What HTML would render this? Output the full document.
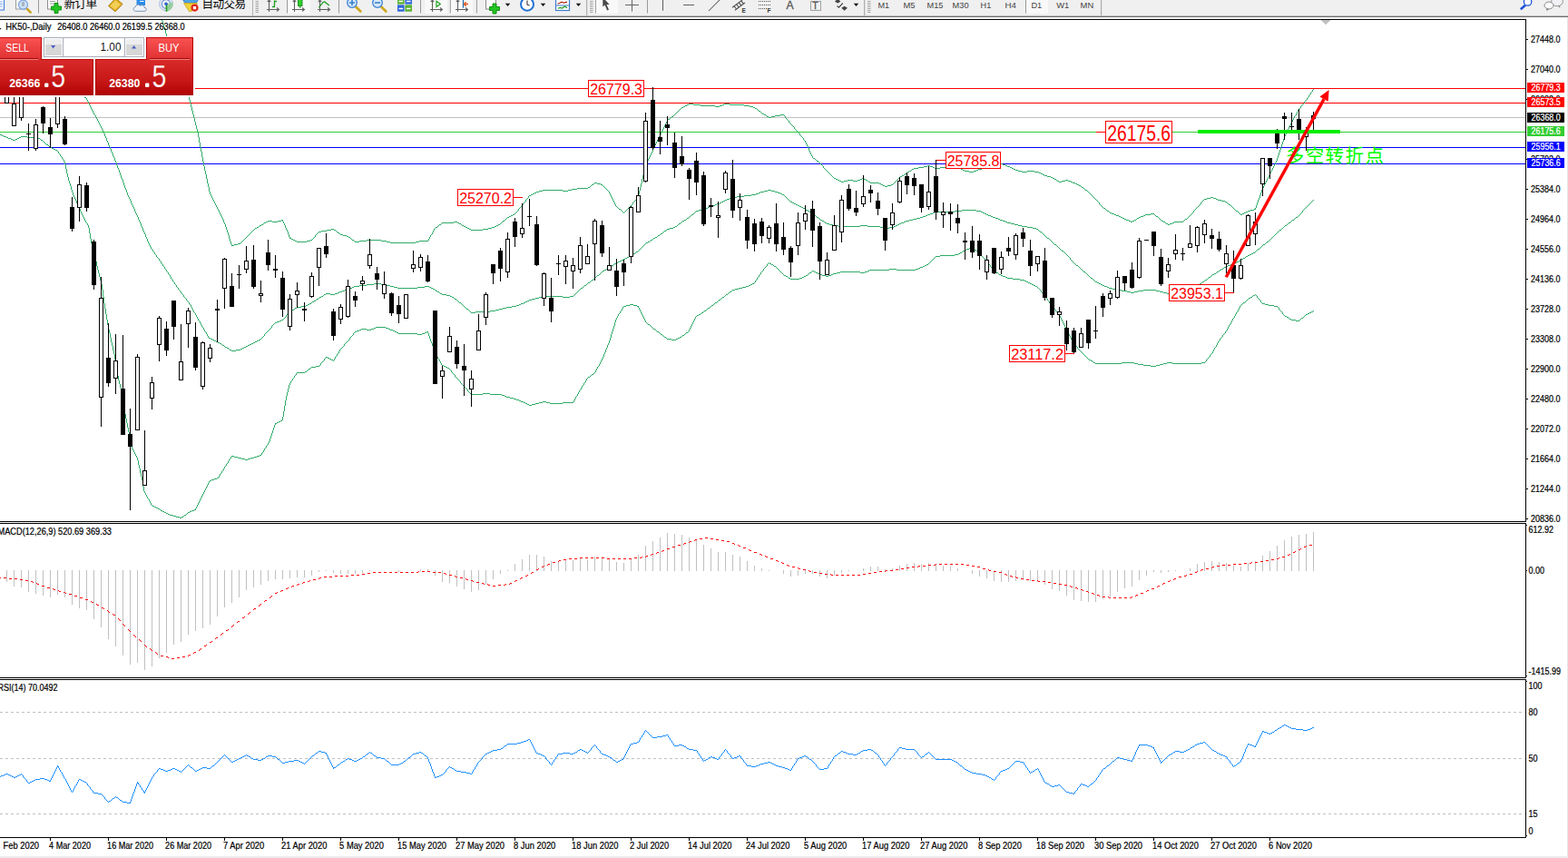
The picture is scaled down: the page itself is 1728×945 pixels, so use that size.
<!DOCTYPE html>
<html><head><meta charset="utf-8"><title>HK50 Daily</title>
<style>html,body{margin:0;padding:0;background:#fff}body{width:1728px;height:945px;overflow:hidden;font-family:"Liberation Sans",sans-serif}</style>
</head><body>
<svg width="1728" height="945" viewBox="0 0 1728 945" font-family="Liberation Sans, sans-serif" style="display:block">
<defs>
<linearGradient id="gTab" x1="0" y1="0" x2="0" y2="1"><stop offset="0" stop-color="#fa5252"/><stop offset="1" stop-color="#e03232"/></linearGradient>
<linearGradient id="gPan" x1="0" y1="0" x2="0" y2="1"><stop offset="0" stop-color="#d92b2b"/><stop offset="0.6" stop-color="#c71717"/><stop offset="1" stop-color="#b00303"/></linearGradient>
<linearGradient id="gBtn" x1="0" y1="0" x2="0" y2="1"><stop offset="0" stop-color="#f4f4f4"/><stop offset="0.5" stop-color="#dcdcdc"/><stop offset="1" stop-color="#c8c8c8"/></linearGradient>
<clipPath id="cMain"><rect x="0" y="22" width="1681" height="552"/></clipPath>
<clipPath id="cTool"><rect x="0" y="0" width="1728" height="17"/></clipPath>
</defs>
<rect width="1728" height="945" fill="#fff"/>
<g clip-path="url(#cMain)">
<rect x="0" y="97" width="1681" height="1" fill="#ff0000" />
<rect x="0" y="113" width="1681" height="1" fill="#ff0000" />
<rect x="0" y="129" width="1681" height="1" fill="#c0c0c0" />
<rect x="0" y="145" width="1681" height="1" fill="#32cd32" />
<rect x="0" y="162" width="1681" height="1" fill="#0000ff" />
<rect x="0" y="180" width="1681" height="1" fill="#0000ff" />
<path fill="none" stroke="#2eaa68" stroke-width="1" shape-rendering="crispEdges" d="M291 245.5h2M487 245.5h13M504 245.5h2M1292 245.5h2M585 214.5h2M755 116.5h2M772 116.5h16M793 116.5h3M820 116.5h6M325 265.5h2M338 265.5h4M396 265.5h8M420 265.5h6M462 265.5h10M757 115.5h2M764 115.5h8M796 115.5h2M804 115.5h16M1022 182.5h3M1092 182.5h2M1108 182.5h2M327 266.5h11M391 266.5h5M426 266.5h4M458 266.5h4M295 243.5h5M306 243.5h4M554 243.5h2M1244 243.5h2M1248 243.5h2M1280 243.5h2M360 253.5h5M368 253.5h2M519 253.5h13M842 126.5h2M860 126.5h4M648 206.5h2M1192 206.5h2M1012 184.5h6M1028 184.5h2M1036 184.5h21M1086 184.5h3M1113 184.5h2M736 131.5h2M293 244.5h2M300 244.5h6M500 244.5h4M1246 244.5h2M1282 244.5h2M1294 244.5h10M1145 190.5h2M973 204.5h2M978 204.5h4M1189 204.5h2M1061 187.5h2M1076 187.5h2M1119 187.5h3M321 263.5h2M288 247.5h2M484 247.5h2M549 247.5h2M1287 247.5h2M594 210.5h4M620 210.5h6M1220 232.5h2M1362 232.5h2M1375 232.5h3M1005 186.5h2M1059 186.5h2M1078 186.5h4M1117 186.5h2M430 267.5h28M1018 183.5h4M1025 183.5h3M1089 183.5h3M1110 183.5h3M310 242.5h2M1241 242.5h3M1250 242.5h2M658 202.5h4M969 202.5h2M1185 202.5h2M365 252.5h3M517 252.5h2M532 252.5h6M1378 231.5h4M1002 188.5h2M1063 188.5h5M1073 188.5h3M1122 188.5h4M1132 188.5h8M378 259.5h4M919 196.5h2M950 196.5h2M1160 196.5h2M1216 229.5h2M751 118.5h2M830 118.5h2M281 251.5h2M515 251.5h2M538 251.5h4M375 258.5h3M630 208.5h6M591 211.5h3M563 237.5h2M1230 237.5h3M1260 237.5h2M923 198.5h2M934 198.5h6M945 198.5h3M954 198.5h2M1174 198.5h3M384 261.5h2M1223 234.5h2M1371 234.5h2M319 262.5h2M561 238.5h2M1233 238.5h2M1257 238.5h3M1274 238.5h2M1007 185.5h5M1030 185.5h6M1057 185.5h2M1082 185.5h4M1115 185.5h2M351 255.5h3M927 200.5h3M957 200.5h2M1167 200.5h3M1180 200.5h2M1350 222.5h2M925 199.5h2M930 199.5h4M940 199.5h5M1165 199.5h2M1170 199.5h4M1177 199.5h3M323 264.5h2M342 264.5h2M388 264.5h2M404 264.5h16M283 250.5h2M480 250.5h2M513 250.5h2M542 250.5h3M975 205.5h3M1354 225.5h2M598 209.5h22M626 209.5h4M1196 209.5h2M354 254.5h6M740 128.5h2M845 128.5h2M850 128.5h4M682 230.5h2M1382 230.5h2M589 212.5h2M655 201.5h3M959 201.5h10M1182 201.5h3M994 193.5h2M1151 193.5h3M1373 233.5h2M1330 218.5h4M1337 218.5h3M1100 180.5h5M1225 235.5h3M1268 235.5h4M1369 235.5h2M847 129.5h3M840 125.5h2M1346 221.5h4M511 249.5h2M545 249.5h2M382 260.5h2M759 114.5h5M798 114.5h6M896 174.5h2M1000 189.5h2M1068 189.5h5M1126 189.5h6M1140 189.5h5M587 213.5h2M286 248.5h2M509 248.5h2M547 248.5h2M506 246.5h2M1285 246.5h2M1289 246.5h3M753 117.5h2M788 117.5h5M826 117.5h4M652 203.5h2M662 203.5h2M971 203.5h2M982 203.5h2M1187 203.5h2M583 215.5h2M559 239.5h2M1235 239.5h2M1255 239.5h2M636 207.5h12M1237 240.5h2M1253 240.5h2M836 122.5h2M1094 181.5h6M1105 181.5h3M1149 192.5h2M565 236.5h2M1228 236.5h2M1262 236.5h6M1367 236.5h2M921 197.5h2M948 197.5h2M952 197.5h2M1162 197.5h2M992 194.5h2M1154 194.5h4M854 127.5h6M1327 219.5h3M1340 219.5h2M900 177.5h2M997 191.5h2M1147 191.5h2M1342 220.5h4M1334 217.5h3M262 268.5h3M372 256.5h2M255 270.5h3M832 119.5h2M1239 241.5h2M1306 241.5h2M1158 195.5h2M258 269.5h4M220.5 157v5M312.5 244v2M870.5 135v1M1440.5 108v2M222.5 167v6M651.5 204v1M725.5 152v2M1393.5 203v2M1323.5 223v2M188.5 51v3M895.5 172v2M216.5 138v4M877.5 143v1M209.5 110v4M1421.5 138v2M708.5 193v4M244.5 238v2M226.5 188v4M579.5 220v2M582.5 216v2M285.5 249v1M666.5 206v1M229.5 202v4M181.5 30v3M478.5 252v2M1273.5 237v1M744.5 125v1M721.5 160v2M250.5 253v3M213.5 126v4M1392.5 205v2M230.5 206v5M251.5 256v3M185.5 43v3M232.5 214v2M914.5 191v1M1417.5 146v2M223.5 173v5M729.5 144v2M704.5 210v4M1433.5 117v2M233.5 216v2M191.5 59v3M869.5 133v2M199.5 81v3M1445.5 101v1M474.5 259v2M254.5 266v3M184.5 40v3M720.5 162v2M1408.5 171v3M1326.5 220v1M192.5 62v3M247.5 245v2M709.5 189v4M1004.5 187v1M205.5 98v3M1212.5 225v1M269.5 263v1M219.5 151v6M985.5 201v1M212.5 122v4M691.5 230v1M713.5 177v2M1213.5 226v1M195.5 70v3M913.5 190v1M558.5 240v1M1353.5 224v1M243.5 236v2M1198.5 210v1M1364.5 233v1M1399.5 191v2M390.5 265v1M570.5 232v1M677.5 223v2M551.5 246v1M1315.5 232v2M839.5 124v1M1436.5 114v1M1439.5 110v1M724.5 154v2M1284.5 245v1M1403.5 183v2M272.5 260v1M1205.5 217v1M345.5 262v1M215.5 134v4M905.5 181v1M225.5 183v5M684.5 231v1M253.5 263v3M578.5 222v1M1423.5 134v2M246.5 242v3M906.5 182v1M318.5 258v3M1396.5 197v2M1412.5 159v3M707.5 197v5M1394.5 201v2M1416.5 148v2M573.5 228v1M688.5 233v1M891.5 163v3M187.5 48v3M1318.5 229v1M1407.5 174v3M1204.5 216v1M731.5 140v2M180.5 27v3M208.5 106v4M1164.5 198v1M473.5 261v2M1411.5 162v3M719.5 164v3M201.5 87v3M482.5 249v1M348.5 258v1M673.5 215v2M218.5 146v5M211.5 118v4M486.5 246v1M228.5 197v5M1359.5 229v1M711.5 181v4M477.5 254v2M224.5 178v5M1360.5 230v1M386.5 262v1M703.5 214v3M834.5 120v1M894.5 170v2M1310.5 238v1M317.5 255v3M371.5 255v1M728.5 146v2M835.5 121v1M909.5 186v1M695.5 226v1M1402.5 185v2M676.5 221v2M879.5 145v1M679.5 227v1M508.5 247v1M221.5 162v5M194.5 68v2M880.5 146v1M1415.5 150v3M249.5 250v3M179.5 23v4M680.5 228v1M1430.5 121v2M987.5 199v1M314.5 248v3M669.5 209v1M1442.5 105v2M650.5 205v1M706.5 202v4M231.5 211v3M1219.5 231v1M916.5 193v1M1322.5 225v1M1398.5 193v2M654.5 202v1M581.5 218v1M1410.5 165v3M190.5 57v2M227.5 192v5M370.5 254v1M276.5 256v1M1211.5 223v2M183.5 37v3M871.5 136v1M908.5 185v1M1414.5 153v3M746.5 123v1M1426.5 128v2M735.5 132v2M1391.5 207v2M204.5 95v3M872.5 137v1M1406.5 177v2M893.5 168v2M576.5 224v2M739.5 129v1M217.5 142v4M242.5 234v2M743.5 126v1M1218.5 230v1M698.5 222v1M710.5 185v4M675.5 219v2M1252.5 241v1M1200.5 212v1M1422.5 136v2M734.5 134v2M1390.5 209v3M668.5 208v1M1325.5 221v1M693.5 228v1M984.5 202v1M553.5 244v1M690.5 231v1M214.5 130v4M718.5 167v2M189.5 54v3M999.5 190v1M730.5 142v2M197.5 76v3M557.5 241v1M252.5 259v4M182.5 33v4M907.5 183v2M210.5 114v4M686.5 233v1M245.5 240v2M203.5 92v3M723.5 156v2M892.5 166v2M1214.5 227v1M701.5 218v2M196.5 73v3M678.5 225v2M1317.5 230v1M241.5 232v2M1438.5 111v1M193.5 65v3M714.5 175v2M705.5 206v4M750.5 119v1M271.5 261v1M882.5 149v1M186.5 46v2M674.5 217v2M915.5 192v1M1397.5 195v2M1409.5 168v3M1366.5 235v1M207.5 103v3M1312.5 236v1M476.5 256v2M1413.5 156v3M200.5 84v3M1425.5 130v2M1389.5 212v3M1305.5 242v1M248.5 247v3M575.5 226v1M991.5 195v1M1401.5 187v2M1320.5 227v1M844.5 127v1M1385.5 223v3M1429.5 123v2M472.5 263v2M1199.5 211v1M1365.5 234v1M316.5 253v2M347.5 259v2M350.5 256v1M875.5 140v2M1388.5 215v3M881.5 147v2M278.5 254v1M238.5 226v2M290.5 246v1M717.5 169v2M1405.5 179v2M671.5 211v2M1206.5 218v1M1195.5 208v1M685.5 232v1M697.5 223v2M266.5 266v1M733.5 136v2M1361.5 231v1M572.5 229v1M240.5 230v2M989.5 197v1M1441.5 107v1M1444.5 102v2M874.5 139v1M315.5 251v2M567.5 235v1M1384.5 226v3M712.5 179v2M1400.5 189v2M237.5 224v2M1191.5 205v1M748.5 121v1M889.5 159v2M1194.5 207v1M670.5 210v1M745.5 124v1M700.5 220v1M198.5 79v2M178.5 22v1M206.5 101v2M866.5 130v1M387.5 263v1M903.5 179v1M273.5 259v1M873.5 138v1M910.5 187v1M202.5 90v2M239.5 228v2M1404.5 181v2M1432.5 119v1M986.5 200v1M681.5 229v1M692.5 229v1M1420.5 140v2M236.5 222v2M888.5 157v2M917.5 194v1M732.5 138v2M902.5 178v1M1428.5 125v2M1276.5 239v1M1319.5 228v1M479.5 251v1M1277.5 240v1M1387.5 218v2M716.5 171v2M1314.5 234v1M1435.5 115v1M1424.5 132v2M1447.5 98v1M1201.5 213v1M277.5 255v1M672.5 213v2M268.5 264v1M1202.5 214v1M883.5 150v1M1395.5 199v2M574.5 227v1M577.5 223v1M865.5 128v2M884.5 151v1M1208.5 220v1M569.5 233v1M265.5 267v1M349.5 257v1M687.5 234v1M1209.5 221v1M280.5 252v1M1215.5 228v1M1419.5 142v2M344.5 263v1M876.5 142v1M1383.5 229v1M1386.5 220v3M1311.5 237v1M665.5 205v1M890.5 161v2M898.5 175v1M1272.5 236v1M235.5 220v2M887.5 155v2M1356.5 226v1M699.5 221v1M864.5 127v1M727.5 148v2M1309.5 239v1M311.5 243v1M1207.5 219v1M715.5 173v2M988.5 198v1M694.5 227v1M1443.5 104v1M747.5 122v1M912.5 189v1M1352.5 223v1M1321.5 226v1M580.5 219v1M275.5 257v1M886.5 154v1M722.5 158v2M838.5 123v1M1446.5 99v2M738.5 130v1M1418.5 144v2M904.5 180v1M996.5 192v1M1431.5 120v1M664.5 204v1M1279.5 242v1M911.5 188v1M374.5 257v1M552.5 245v1M313.5 246v2M885.5 152v2M1427.5 127v1M702.5 217v1M234.5 218v2M918.5 195v1M255.5 269v1M867.5 131v1M1437.5 112v2M742.5 127v1M868.5 132v1M1313.5 235v1M1434.5 116v1M279.5 253v1M1222.5 233v1M1278.5 241v1M270.5 262v1M956.5 199v1M726.5 150v2M475.5 258v1M1324.5 222v1M878.5 144v1M571.5 230v2M1304.5 243v1M267.5 265v1M899.5 176v1M689.5 232v1M1203.5 215v1M1358.5 228v1M556.5 242v1M346.5 261v1M568.5 234v1M483.5 248v1M749.5 120v1M1316.5 231v1M1210.5 222v1M319.5 261v1M1308.5 240v1M274.5 258v1M990.5 196v1M696.5 225v1M1357.5 227v1M667.5 207v1"/>
<path fill="none" stroke="#2eaa68" stroke-width="1" shape-rendering="crispEdges" d="M492 325.5h4M742 250.5h2M970 250.5h4M980 250.5h5M1132 250.5h6M744 249.5h2M924 249.5h24M956 249.5h14M985 249.5h2M1126 249.5h6M3 83.5h6M47 91.5h5M1020 237.5h2M1089 237.5h3M385 317.5h3M438 317.5h22M475 317.5h2M640 317.5h2M1222 317.5h4M1314 317.5h2M838 211.5h4M854 211.5h3M1349 294.5h2M380 319.5h2M1230 319.5h6M1260 319.5h14M1310 319.5h2M255 386.5h5M693 282.5h2M1373 282.5h2M1332 305.5h2M1030 233.5h22M1081 233.5h2M372 322.5h2M1246 322.5h4M1282 322.5h4M1292 322.5h13M344 332.5h2M579 332.5h2M770 231.5h4M888 231.5h2M1060 231.5h16M918 248.5h6M948 248.5h8M987 248.5h2M1122 248.5h4M1416 248.5h2M828 214.5h5M862 214.5h2M354 326.5h2M496 326.5h2M598 326.5h22M628 326.5h4M681 288.5h2M1363 288.5h2M900 239.5h2M1014 239.5h3M1094 239.5h3M1428 239.5h2M341 334.5h2M574 334.5h3M689 284.5h2M1370 284.5h2M20 86.5h5M735 252.5h3M1142 252.5h2M412 312.5h8M1211 312.5h2M1322 312.5h2M685 286.5h2M524 343.5h16M804 218.5h2M377 320.5h3M480 320.5h2M1236 320.5h6M1254 320.5h6M1274 320.5h4M1308 320.5h2M1006 241.5h4M1100 241.5h2M374 321.5h3M482 321.5h2M1242 321.5h4M1250 321.5h4M1278 321.5h4M1305 321.5h3M359 323.5h5M369 323.5h3M485 323.5h2M1286 323.5h6M1162 269.5h2M1392 269.5h2M754 242.5h2M904 242.5h2M1002 242.5h4M1102 242.5h3M1424 242.5h2M757 240.5h2M1010 240.5h4M1097 240.5h3M253 385.5h2M260 385.5h5M382 318.5h3M477 318.5h2M1226 318.5h4M1312 318.5h2M514 340.5h2M550 340.5h4M308 353.5h2M720 262.5h2M1154 262.5h2M390 315.5h6M430 315.5h4M468 315.5h5M1217 315.5h3M1317 315.5h2M41 90.5h6M1202 306.5h2M893 234.5h2M1028 234.5h2M1083 234.5h2M717 264.5h2M795 222.5h2M871 222.5h2M762 236.5h2M896 236.5h2M1022 236.5h3M1087 236.5h2M590 328.5h4M25 87.5h6M242 378.5h2M277 378.5h2M1017 238.5h3M1092 238.5h2M909 245.5h2M993 245.5h3M1110 245.5h4M1420 245.5h2M782 227.5h3M881 227.5h2M332 337.5h5M564 337.5h5M76 100.5h3M67 96.5h2M1146 255.5h2M677 290.5h2M1358 290.5h3M325 339.5h2M554 339.5h4M1338 301.5h2M357 324.5h2M364 324.5h5M487 324.5h5M349 329.5h2M501 329.5h2M586 329.5h4M1356 291.5h2M388 316.5h2M434 316.5h4M460 316.5h8M473 316.5h2M1220 316.5h2M352 327.5h2M498 327.5h2M594 327.5h4M620 327.5h8M799 220.5h2M780 228.5h2M883 228.5h2M790 224.5h3M875 224.5h2M1375 281.5h2M86 104.5h2M788 225.5h2M877 225.5h2M14 85.5h6M79 101.5h2M812 216.5h8M652 308.5h2M1328 308.5h2M583 330.5h3M767 232.5h3M890 232.5h2M1052 232.5h8M1076 232.5h5M240 377.5h2M279 377.5h2M801 219.5h3M1336 302.5h2M666 297.5h2M1344 297.5h2M748 246.5h2M911 246.5h3M991 246.5h2M1114 246.5h4M842 210.5h4M850 210.5h4M1170 276.5h2M396 314.5h8M426 314.5h4M644 314.5h2M1215 314.5h2M683 287.5h2M1365 287.5h2M234 374.5h2M285 374.5h2M1346 296.5h2M36 89.5h5M701 277.5h2M519 344.5h5M1381 278.5h2M250 383.5h2M267 383.5h2M672 293.5h2M1351 293.5h2M996 244.5h2M1108 244.5h2M320 342.5h2M540 342.5h6M1207 310.5h2M1325 310.5h2M793 223.5h2M873 223.5h2M648 311.5h2M1209 311.5h2M0 82.5h3M305 354.5h3M674 292.5h2M1186 292.5h2M1353 292.5h3M245 380.5h2M273 380.5h2M327 338.5h5M558 338.5h6M271 381.5h2M238 376.5h2M281 376.5h2M404 313.5h8M420 313.5h6M1213 313.5h2M1320 313.5h2M846 209.5h4M728 257.5h2M339 335.5h2M572 335.5h2M696 280.5h2M1377 280.5h2M914 247.5h4M989 247.5h2M1118 247.5h4M820 215.5h8M836 212.5h2M857 212.5h3M738 251.5h4M974 251.5h6M1138 251.5h4M506 333.5h2M577 333.5h2M346 331.5h2M581 331.5h2M322 341.5h2M546 341.5h4M679 289.5h2M1361 289.5h2M248 382.5h2M269 382.5h2M669 295.5h2M774 230.5h3M785 226.5h3M879 226.5h2M1410 253.5h2M81 102.5h3M833 213.5h3M860 213.5h2M752 243.5h2M906 243.5h2M998 243.5h4M1105 243.5h3M74 99.5h2M64 95.5h3M725 259.5h2M275 379.5h2M236 375.5h2M283 375.5h2M1025 235.5h3M1085 235.5h2M714 266.5h2M1396 266.5h2M806 217.5h6M687 285.5h2M1368 285.5h2M797 221.5h2M1194 299.5h2M1341 299.5h2M71 98.5h3M658 303.5h2M232 373.5h2M303 355.5h2M691 283.5h2M664 298.5h2M230 372.5h2M69 97.5h2M58 93.5h4M62 94.5h2M777 229.5h3M885 229.5h2M722 261.5h2M265 384.5h2M337 336.5h2M569 336.5h3M732 254.5h2M52 92.5h6M1386 274.5h2M712 267.5h2M88 105.5h3M31 88.5h5M91 106.5h2M698 279.5h2M1379 279.5h2M9 84.5h5M310 352.5h2M93 107.5h2M84 103.5h2M632.5 325v1M145.5 224v2M117.5 152v3M107.5 131v2M761.5 237v1M1402.5 261v1M128.5 179v3M1391.5 270v1M134.5 196v2M671.5 294v1M663.5 299v1M1177.5 282v1M152.5 239v3M124.5 169v3M317.5 345v1M1166.5 272v1M1433.5 235v1M181.5 294v2M656.5 305v1M138.5 207v2M177.5 288v2M185.5 300v2M510.5 336v1M660.5 302v1M312.5 351v1M102.5 122v2M1144.5 253v1M199.5 321v2M103.5 124v2M106.5 129v2M1409.5 254v1M203.5 327v1M867.5 218v1M99.5 116v2M1445.5 222v1M1413.5 251v1M1191.5 296v1M1436.5 231v1M1165.5 271v1M1192.5 297v1M289.5 371v1M123.5 167v2M137.5 204v3M202.5 325v2M109.5 135v2M709.5 270v1M130.5 185v2M892.5 233v1M297.5 362v1M300.5 358v1M101.5 120v2M639.5 318v1M159.5 256v2M636.5 321v1M295.5 364v1M706.5 273v1M144.5 221v3M116.5 150v2M1179.5 284v2M155.5 246v3M517.5 342v1M351.5 328v1M1180.5 286v1M343.5 333v1M166.5 272v2M1404.5 259v1M180.5 293v1M188.5 305v2M151.5 237v2M1440.5 227v1M105.5 127v2M228.5 368v2M108.5 133v2M184.5 299v1M484.5 322v1M643.5 315v1M319.5 343v1M1435.5 232v2M1161.5 268v1M98.5 114v2M158.5 254v2M1172.5 277v1M1327.5 309v1M647.5 312v1M479.5 319v1M1150.5 258v1M1319.5 314v1M513.5 339v1M314.5 349v1M1331.5 306v1M115.5 147v3M651.5 309v1M133.5 193v3M292.5 367v1M141.5 215v2M154.5 244v2M719.5 263v1M634.5 323v1M183.5 297v2M165.5 270v2M287.5 373v1M179.5 291v2M187.5 303v2M1447.5 220v1M1401.5 262v1M104.5 126v1M227.5 366v2M512.5 338v1M201.5 324v1M148.5 230v3M903.5 241v1M1384.5 276v1M220.5 354v2M1149.5 257v1M662.5 300v1M205.5 329v2M143.5 219v2M97.5 112v2M1388.5 273v1M126.5 174v3M299.5 359v2M132.5 190v3M168.5 275v2M140.5 212v3M727.5 258v1M1430.5 238v1M169.5 277v1M182.5 296v1M1167.5 273v1M190.5 308v2M122.5 164v3M172.5 281v2M731.5 255v1M1145.5 254v1M1197.5 301v1M222.5 358v2M708.5 271v1M1168.5 274v1M899.5 238v1M1408.5 255v1M194.5 314v2M902.5 240v1M136.5 201v3M223.5 360v1M100.5 118v2M765.5 234v1M157.5 251v3M129.5 182v3M119.5 157v3M1395.5 267v1M216.5 347v2M160.5 258v3M746.5 248v1M1372.5 283v1M291.5 368v2M1399.5 264v1M750.5 245v1M302.5 356v1M1442.5 225v1M1178.5 283v1M869.5 220v1M164.5 268v2M1193.5 298v1M186.5 302v1M229.5 370v2M1415.5 249v1M189.5 307v1M150.5 235v2M638.5 319v1M218.5 351v2M1156.5 263v1M1419.5 246v1M219.5 353v1M642.5 316v1M294.5 365v1M204.5 328v1M868.5 219v1M212.5 340v2M215.5 345v2M1406.5 257v1M208.5 333v2M703.5 276v1M142.5 217v2M1204.5 307v1M114.5 145v2M518.5 343v1M898.5 237v1M1181.5 287v1M676.5 291v1M225.5 363v2M668.5 296v1M193.5 313v1M1182.5 288v1M508.5 334v1M149.5 233v2M1434.5 234v1M121.5 162v2M226.5 365v1M657.5 304v1M1383.5 277v1M211.5 338v2M96.5 110v2M127.5 177v2M695.5 281v1M135.5 198v3M633.5 324v1M156.5 249v2M1151.5 259v1M1174.5 279v1M1403.5 260v1M167.5 274v1M1152.5 260v1M170.5 278v2M131.5 187v3M163.5 266v2M171.5 280v1M192.5 311v2M356.5 325v1M221.5 356v2M224.5 361v2M1390.5 271v1M196.5 317v2M120.5 160v2M217.5 349v2M1437.5 230v1M1394.5 268v1M206.5 331v1M214.5 344v1M1173.5 278v1M864.5 215v1M207.5 332v1M313.5 350v1M210.5 336v2M95.5 108v2M1432.5 236v1M1343.5 298v1M1335.5 303v1M1188.5 293v1M503.5 330v1M710.5 269v1M730.5 256v1M908.5 244v1M756.5 241v1M113.5 143v2M110.5 137v2M191.5 310v1M760.5 238v1M1198.5 302v1M1169.5 275v1M213.5 342v2M1444.5 223v1M1398.5 265v1M764.5 235v1M1158.5 265v1M1199.5 303v1M316.5 346v1M1367.5 286v1M655.5 306v1M870.5 221v1M301.5 357v1M324.5 340v1M162.5 263v3M1324.5 311v1M296.5 363v1M173.5 283v1M1316.5 316v1M174.5 284v1M195.5 316v1M724.5 260v1M247.5 381v1M705.5 274v1M1405.5 258v1M288.5 372v1M1439.5 228v1M112.5 141v2M1205.5 308v1M1385.5 275v1M1183.5 289v1M1206.5 309v1M716.5 265v1M315.5 347v2M1157.5 264v1M1423.5 243v1M1412.5 252v1M646.5 313v1M509.5 335v1M635.5 322v1M147.5 228v2M198.5 320v1M209.5 335v1M895.5 235v1M1175.5 280v1M866.5 217v1M1176.5 281v1M1400.5 263v1M1389.5 272v1M1153.5 261v1M139.5 209v3M111.5 139v2M197.5 319v1M1427.5 240v1M161.5 261v2M661.5 301v1M1330.5 307v1M650.5 310v1M1431.5 237v1M1200.5 304v1M1334.5 304v1M654.5 307v1M118.5 155v2M298.5 361v1M1201.5 305v1M1446.5 221v1M766.5 233v1M504.5 331v1M1164.5 270v1M125.5 172v2M747.5 247v1M348.5 330v1M505.5 332v1M759.5 239v1M516.5 341v1M751.5 244v1M175.5 285v2M318.5 344v1M1443.5 224v1M176.5 287v1M865.5 216v1M146.5 226v2M1189.5 294v1M1160.5 267v1M887.5 230v1M707.5 272v1M252.5 384v1M1190.5 295v1M1414.5 250v1M734.5 253v1M637.5 320v1M700.5 278v1M1418.5 247v1M1407.5 256v1M290.5 370v1M153.5 242v2M293.5 366v1M704.5 275v1M1159.5 266v1M500.5 328v1M511.5 337v1M1438.5 229v1M1148.5 256v1M1348.5 295v1M1422.5 244v1M244.5 379v1M1340.5 300v1M711.5 268v1M1184.5 290v1M1426.5 241v1M178.5 290v1M1185.5 291v1M1196.5 300v1M1441.5 226v1M200.5 323v1"/>
<path fill="none" stroke="#2eaa68" stroke-width="1" shape-rendering="crispEdges" d="M51 159.5h2M577 443.5h2M594 443.5h4M602 443.5h4M620 443.5h12M177 562.5h2M211 562.5h3M398 362.5h6M409 362.5h3M428 362.5h2M720 362.5h2M848 290.5h2M181 564.5h2M207 564.5h2M690 336.5h4M698 336.5h4M784 336.5h2M1398 336.5h6M827 313.5h2M1137 313.5h2M327 410.5h9M1036 281.5h16M1254 401.5h6M1278 401.5h4M853 293.5h2M1017 293.5h2M583 446.5h3M574 442.5h3M598 442.5h4M652 412.5h2M1012 295.5h2M1207 400.5h29M1250 400.5h4M1282 400.5h4M1292 400.5h32M566 439.5h3M460 368.5h5M728 368.5h2M871 307.5h10M1116 307.5h8M487 402.5h2M1260 402.5h8M1274 402.5h4M850 291.5h2M1021 291.5h2M869 306.5h2M881 306.5h3M1110 306.5h6M231 529.5h2M9 152.5h3M19 152.5h2M40 152.5h4M2 149.5h2M414 360.5h11M735 373.5h5M745 373.5h2M980 296.5h8M1009 296.5h3M179 563.5h2M209 563.5h2M1205 399.5h2M1236 399.5h14M1286 399.5h6M1324 399.5h4M1416 348.5h2M266 505.5h4M273 505.5h3M892 300.5h2M899 300.5h2M922 300.5h4M948 300.5h5M1098 300.5h2M1381 325.5h2M1019 292.5h2M1391 334.5h3M1428 353.5h4M258 503.5h4M280 503.5h3M818 316.5h4M687 337.5h3M702 337.5h2M1404 337.5h4M768 347.5h2M1131 310.5h2M359 393.5h2M958 297.5h22M988 297.5h21M214 561.5h2M391 365.5h2M435 365.5h2M470 365.5h2M724 365.5h2M168 557.5h2M519 434.5h13M540 434.5h13M714 357.5h2M1124 308.5h5M270 506.5h3M864 303.5h2M888 303.5h2M906 303.5h4M913 303.5h3M1103 303.5h2M55 162.5h2M393 364.5h3M433 364.5h2M788 333.5h2M1370 333.5h2M307 464.5h2M1014 294.5h3M776 342.5h2M348 403.5h4M489 403.5h2M1268 403.5h6M1418 349.5h2M562 438.5h4M437 366.5h2M468 366.5h2M756 366.5h2M1445 343.5h2M804 321.5h2M747 372.5h2M796 327.5h2M1378 327.5h2M57 163.5h2M814 317.5h4M792 330.5h2M439 367.5h21M465 367.5h3M396 363.5h2M404 363.5h5M430 363.5h3M7 151.5h2M21 151.5h2M30 151.5h10M581 445.5h2M586 445.5h4M553 435.5h3M572 441.5h2M236 527.5h3M363 395.5h2M365 396.5h2M1200 396.5h2M0 148.5h2M1202 397.5h2M694 335.5h4M1394 335.5h4M1056 279.5h2M309 463.5h2M903 302.5h3M916 302.5h2M1101 302.5h2M897 299.5h2M926 299.5h22M953 299.5h3M1096 299.5h2M558 437.5h4M336 409.5h2M174 560.5h2M752 369.5h2M648 415.5h2M807 319.5h3M825 314.5h2M1139 314.5h2M773 344.5h2M1443 344.5h2M770 346.5h2M1439 346.5h2M194 569.5h4M200 569.5h2M884 305.5h2M1108 305.5h2M901 301.5h2M918 301.5h4M12 153.5h2M17 153.5h2M255 502.5h3M283 502.5h3M343 404.5h5M491 404.5h2M1063 275.5h2M1074 275.5h2M1068 273.5h2M822 315.5h3M1141 315.5h2M1423 352.5h5M579 444.5h2M590 444.5h4M606 444.5h14M829 312.5h2M1135 312.5h2M4 150.5h3M23 150.5h7M732 371.5h2M749 371.5h2M532 433.5h8M361 394.5h2M262 504.5h4M276 504.5h4M780 339.5h2M1434 350.5h2M556 436.5h2M233 528.5h3M59 164.5h2M305 465.5h2M493 405.5h2M569 440.5h3M1421 351.5h2M1070 272.5h2M412 361.5h2M425 361.5h3M172 559.5h2M1133 311.5h2M1441 345.5h2M1376 328.5h2M1065 274.5h3M198 570.5h2M1052 280.5h4M866 304.5h2M886 304.5h2M910 304.5h3M1105 304.5h3M800 324.5h2M740 374.5h5M810 318.5h4M170 558.5h2M1129 309.5h2M185 566.5h2M14 154.5h3M45 154.5h2M1031 282.5h5M1061 276.5h2M895 298.5h2M956 298.5h2M303 466.5h2M191 568.5h3M183 565.5h2M340 406.5h2M187 567.5h4M203 567.5h2M1058 278.5h2M61 165.5h2M239 526.5h2M286 501.5h2M765.5 351v2M354.5 399v1M357.5 395v2M1186.5 381v1M223.5 544v2M152.5 507v5M377.5 382v1M53.5 160v1M1175.5 362v2M314.5 441v6M1204.5 398v1M289.5 498v1M135.5 438v6M834.5 306v2M126.5 390v6M102.5 272v4M74.5 191v4M145.5 490v4M673.5 368v4M112.5 313v6M119.5 358v5M846.5 290v1M372.5 389v1M251.5 508v2M708.5 347v2M216.5 558v2M318.5 424v4M70.5 176v2M129.5 408v6M156.5 525v4M115.5 334v6M486.5 400v2M88.5 230v3M78.5 205v4M132.5 423v4M125.5 386v4M243.5 521v1M99.5 257v6M660.5 401v2M388.5 369v1M472.5 367v3M326.5 411v2M501.5 413v2M1329.5 396v2M313.5 447v6M118.5 352v6M247.5 514v2M368.5 395v2M685.5 340v2M162.5 547v2M791.5 331v1M317.5 428v4M760.5 361v2M128.5 402v6M677.5 355v4M383.5 375v1M1149.5 323v1M1388.5 330v1M227.5 536v2M1380.5 326v1M1178.5 368v2M165.5 552v2M1089.5 290v1M772.5 345v1M302.5 468v3M105.5 284v4M632.5 441v2M158.5 536v5M656.5 408v2M1389.5 331v2M795.5 328v1M1090.5 291v1M96.5 246v2M1174.5 360v2M297.5 483v3M891.5 301v1M159.5 541v2M1163.5 341v2M1171.5 354v2M122.5 372v5M142.5 476v5M511.5 425v1M98.5 251v6M109.5 301v4M1060.5 277v1M73.5 186v5M301.5 471v3M101.5 268v4M704.5 339v2M1164.5 343v1M144.5 485v5M475.5 376v2M669.5 380v3M512.5 426v1M482.5 393v2M84.5 221v3M121.5 367v5M718.5 360v1M155.5 521v4M87.5 228v2M518.5 433v1M138.5 456v5M1433.5 351v1M764.5 353v2M296.5 486v2M1413.5 344v2M48.5 156v1M134.5 432v6M1082.5 282v1M131.5 419v4M471.5 366v1M300.5 474v3M148.5 498v2M1352.5 362v2M1437.5 348v1M1414.5 346v1M1387.5 329v1M222.5 546v2M151.5 504v3M645.5 419v2M312.5 453v6M672.5 372v3M1029.5 284v1M861.5 300v1M1177.5 366v2M94.5 243v2M799.5 325v1M845.5 291v2M371.5 390v2M504.5 417v1M1188.5 384v1M380.5 378v1M710.5 351v2M95.5 245v1M1369.5 334v1M664.5 393v2M803.5 322v1M1189.5 385v1M707.5 345v2M1170.5 352v2M837.5 302v1M108.5 297v4M254.5 503v2M1081.5 281v1M375.5 384v1M755.5 367v1M703.5 338v1M681.5 346v2M246.5 516v2M1337.5 385v2M141.5 471v5M127.5 396v6M44.5 153v1M481.5 391v2M651.5 413v1M485.5 398v2M111.5 309v4M154.5 516v5M1332.5 393v1M663.5 395v2M1345.5 372v1M356.5 397v1M503.5 416v1M1196.5 392v1M104.5 280v4M76.5 199v3M206.5 565v1M176.5 561v1M1088.5 288v2M147.5 496v2M478.5 384v3M1091.5 292v2M860.5 299v1M97.5 248v3M114.5 327v7M288.5 499v2M1152.5 326v2M80.5 212v3M1092.5 294v1M1447.5 342v1M659.5 403v1M1341.5 378v2M671.5 375v3M833.5 308v1M120.5 363v4M91.5 237v2M1156.5 332v2M842.5 295v1M137.5 450v6M226.5 538v2M474.5 373v3M1027.5 286v1M292.5 493v1M1195.5 391v1M295.5 488v2M316.5 432v4M759.5 363v2M840.5 298v1M250.5 510v1M1359.5 350v1M782.5 338v1M1024.5 289v1M1348.5 368v1M320.5 420v2M655.5 410v1M107.5 293v4M786.5 335v1M124.5 381v5M639.5 429v1M684.5 342v1M367.5 397v1M723.5 364v1M83.5 219v2M379.5 379v2M217.5 556v2M1355.5 357v1M130.5 414v5M1390.5 333v1M1187.5 382v2M836.5 303v2M676.5 359v3M230.5 530v2M1151.5 325v1M643.5 422v2M253.5 505v1M374.5 385v2M79.5 209v3M763.5 355v2M680.5 348v2M635.5 436v1M242.5 522v2M221.5 548v2M140.5 466v5M1173.5 358v2M90.5 235v2M1155.5 331v1M153.5 512v4M54.5 161v1M299.5 477v3M117.5 346v6M1351.5 364v1M387.5 370v1M390.5 366v1M706.5 343v2M311.5 459v4M113.5 319v8M1169.5 350v2M484.5 396v2M315.5 436v5M110.5 305v4M675.5 362v3M495.5 406v1M249.5 511v2M1166.5 345v1M790.5 332v1M382.5 376v1M667.5 385v3M385.5 372v2M496.5 407v1M1143.5 316v1M480.5 389v2M157.5 529v7M658.5 404v2M150.5 502v2M133.5 427v5M1144.5 317v1M82.5 217v2M670.5 378v2M1383.5 324v1M100.5 263v5M1084.5 284v1M1154.5 329v2M75.5 195v4M225.5 540v2M674.5 365v3M72.5 181v5M146.5 494v2M291.5 494v2M476.5 378v3M1076.5 276v1M93.5 241v2M1158.5 335v2M1095.5 298v1M662.5 397v2M1344.5 373v2M506.5 419v1M1347.5 369v2M319.5 422v2M139.5 461v5M1172.5 356v2M646.5 417v2M89.5 233v2M1191.5 387v1M1165.5 344v1M705.5 341v2M513.5 427v1M1342.5 376v2M1083.5 283v1M483.5 395v1M473.5 370v3M1354.5 358v2M1331.5 394v1M855.5 294v1M832.5 309v2M143.5 481v4M136.5 444v6M1375.5 329v1M229.5 532v2M642.5 424v1M370.5 392v1M103.5 276v4M49.5 157v1M794.5 329v1M762.5 357v2M634.5 437v2M106.5 288v5M149.5 500v2M220.5 550v2M1072.5 273v1M1358.5 351v2M50.5 158v1M1338.5 383v2M1180.5 372v2M123.5 377v4M116.5 340v6M1350.5 365v2M734.5 372v1M92.5 239v2M1094.5 296v2M862.5 301v1M1366.5 337v2M754.5 368v1M338.5 408v1M64.5 167v2M863.5 302v1M683.5 343v2M245.5 518v1M638.5 430v2M650.5 414v1M758.5 365v1M1168.5 348v2M65.5 169v1M1334.5 390v1M68.5 173v2M1420.5 350v1M654.5 411v1M1362.5 344v2M353.5 400v2M479.5 387v2M252.5 506v2M498.5 410v1M373.5 387v2M224.5 542v2M1415.5 347v1M81.5 215v2M1150.5 324v1M1183.5 378v1M844.5 293v1M661.5 399v2M847.5 289v1M505.5 418v1M1179.5 370v2M1026.5 287v1M1153.5 328v1M294.5 490v1M1373.5 331v1M1190.5 386v1M322.5 417v2M839.5 299v1M678.5 352v3M666.5 388v2M342.5 405v1M71.5 178v3M657.5 406v2M1167.5 346v2M641.5 425v2M358.5 394v1M369.5 393v2M497.5 408v2M290.5 496v2M716.5 358v1M1197.5 393v1M516.5 431v1M1408.5 338v1M665.5 390v3M730.5 369v1M1182.5 376v2M1385.5 326v2M637.5 432v2M389.5 367v2M1093.5 295v1M1146.5 319v1M215.5 560v1M1438.5 347v1M1157.5 334v1M1333.5 391v2M1361.5 346v2M515.5 429v2M384.5 374v1M228.5 534v2M77.5 202v3M63.5 166v1M761.5 359v2M633.5 439v2M219.5 552v2M1365.5 339v2M1145.5 318v1M1357.5 353v2M857.5 296v1M293.5 491v2M1181.5 374v2M835.5 305v1M838.5 300v2M507.5 420v2M166.5 554v2M668.5 383v2M376.5 383v1M508.5 422v1M711.5 353v2M1353.5 360v2M325.5 413v1M1077.5 277v1M66.5 170v2M1432.5 352v1M726.5 366v1M1078.5 278v1M67.5 172v1M1160.5 338v1M298.5 480v3M1328.5 398v1M352.5 402v1M644.5 421v1M1340.5 380v2M1028.5 285v1M775.5 343v1M1100.5 301v1M767.5 348v1M841.5 296v2M1384.5 325v1M779.5 340v1M1085.5 285v1M1368.5 335v1M890.5 302v1M783.5 337v1M640.5 427v2M1336.5 387v2M1159.5 337v1M218.5 554v2M722.5 363v1M1436.5 349v1M1192.5 388v1M1364.5 341v2M514.5 428v1M636.5 434v2M1409.5 339v2M856.5 295v1M241.5 524v2M679.5 350v2M1410.5 341v1M499.5 411v1M868.5 305v1M477.5 381v3M1360.5 348v2M798.5 326v1M1073.5 274v1M500.5 412v1M321.5 419v1M1372.5 332v1M324.5 414v2M894.5 299v1M1184.5 379v1M802.5 323v1M787.5 334v1M161.5 545v2M1148.5 322v1M1185.5 380v1M1356.5 355v2M69.5 175v1M852.5 292v1M355.5 398v1M378.5 381v1M205.5 566v1M717.5 359v1M1147.5 320v2M1198.5 394v1M731.5 370v1M47.5 155v1M1199.5 395v1M164.5 550v2M806.5 320v1M386.5 371v1M160.5 543v2M766.5 349v2M1023.5 290v1M248.5 513v1M686.5 338v2M303.5 467v1M381.5 377v1M1079.5 279v1M86.5 226v2M339.5 407v1M517.5 432v1M751.5 370v1M1080.5 280v1M1162.5 340v1M244.5 519v2M647.5 416v1M1386.5 328v1M502.5 415v1M1343.5 375v1M202.5 568v1M1176.5 364v2M1335.5 389v1M1087.5 287v1M859.5 298v1M709.5 349v2M509.5 423v1M712.5 355v1M1030.5 283v1M510.5 424v1M713.5 356v1M1339.5 382v1M727.5 367v1M778.5 341v1M85.5 224v2M1367.5 336v1M1346.5 371v1M858.5 297v1M167.5 556v1M682.5 345v1M163.5 549v1M1363.5 343v1M1330.5 395v1M1161.5 339v1M1193.5 389v1M831.5 311v1M1374.5 330v1M843.5 294v1M1194.5 390v1M323.5 416v1M1086.5 286v1M1411.5 342v1M1025.5 288v1M1349.5 367v1M719.5 361v1M1412.5 343v1"/>
<g shape-rendering="crispEdges">
<rect x="5.5" y="100.5" width="4" height="13" fill="#fff" stroke="#000" stroke-width="1"/>
<rect x="15" y="100" width="1" height="14" fill="#000"/>
<rect x="13.5" y="114.5" width="4" height="24" fill="#fff" stroke="#000" stroke-width="1"/>
<rect x="23" y="130" width="1" height="3" fill="#000"/>
<rect x="21.5" y="100.5" width="4" height="29" fill="#fff" stroke="#000" stroke-width="1"/>
<rect x="31" y="136" width="1" height="30" fill="#000"/>
<rect x="29" y="147" width="5" height="1" fill="#000" />
<rect x="39" y="131" width="1" height="6" fill="#000"/>
<rect x="39" y="164" width="1" height="2" fill="#000"/>
<rect x="37.5" y="137.5" width="4" height="26" fill="#fff" stroke="#000" stroke-width="1"/>
<rect x="47" y="117" width="1" height="1" fill="#000"/>
<rect x="47" y="136" width="1" height="11" fill="#000"/>
<rect x="45" y="118" width="5" height="18" fill="#000"/>
<rect x="55" y="130" width="1" height="10" fill="#000"/>
<rect x="55" y="148" width="1" height="15" fill="#000"/>
<rect x="53" y="140" width="5" height="8" fill="#000"/>
<rect x="63" y="137" width="1" height="4" fill="#000"/>
<rect x="61.5" y="100.5" width="4" height="36" fill="#fff" stroke="#000" stroke-width="1"/>
<rect x="71" y="128" width="1" height="3" fill="#000"/>
<rect x="71" y="159" width="1" height="1" fill="#000"/>
<rect x="69" y="131" width="5" height="28" fill="#000"/>
<rect x="79" y="217" width="1" height="11" fill="#000"/>
<rect x="79" y="252" width="1" height="3" fill="#000"/>
<rect x="77" y="228" width="5" height="24" fill="#000"/>
<rect x="87" y="194" width="1" height="9" fill="#000"/>
<rect x="87" y="229" width="1" height="15" fill="#000"/>
<rect x="85.5" y="203.5" width="4" height="25" fill="#fff" stroke="#000" stroke-width="1"/>
<rect x="95" y="201" width="1" height="3" fill="#000"/>
<rect x="95" y="229" width="1" height="4" fill="#000"/>
<rect x="93" y="204" width="5" height="25" fill="#000"/>
<rect x="103" y="264" width="1" height="2" fill="#000"/>
<rect x="103" y="314" width="1" height="5" fill="#000"/>
<rect x="101" y="266" width="5" height="48" fill="#000"/>
<rect x="111" y="305" width="1" height="23" fill="#000"/>
<rect x="111" y="438" width="1" height="32" fill="#000"/>
<rect x="109.5" y="328.5" width="4" height="109" fill="#fff" stroke="#000" stroke-width="1"/>
<rect x="119" y="356" width="1" height="38" fill="#000"/>
<rect x="119" y="422" width="1" height="4" fill="#000"/>
<rect x="117" y="394" width="5" height="28" fill="#000"/>
<rect x="127" y="368" width="1" height="29" fill="#000"/>
<rect x="127" y="417" width="1" height="17" fill="#000"/>
<rect x="125.5" y="397.5" width="4" height="19" fill="#fff" stroke="#000" stroke-width="1"/>
<rect x="135" y="369" width="1" height="59" fill="#000"/>
<rect x="133" y="428" width="5" height="51" fill="#000"/>
<rect x="143" y="450" width="1" height="28" fill="#000"/>
<rect x="143" y="492" width="1" height="70" fill="#000"/>
<rect x="141" y="478" width="5" height="14" fill="#000"/>
<rect x="151" y="390" width="1" height="3" fill="#000"/>
<rect x="149.5" y="393.5" width="4" height="80" fill="#fff" stroke="#000" stroke-width="1"/>
<rect x="159" y="474" width="1" height="44" fill="#000"/>
<rect x="157.5" y="518.5" width="4" height="16" fill="#fff" stroke="#000" stroke-width="1"/>
<rect x="167" y="415" width="1" height="6" fill="#000"/>
<rect x="167" y="439" width="1" height="12" fill="#000"/>
<rect x="165.5" y="421.5" width="4" height="17" fill="#fff" stroke="#000" stroke-width="1"/>
<rect x="175" y="348" width="1" height="2" fill="#000"/>
<rect x="175" y="380" width="1" height="18" fill="#000"/>
<rect x="173.5" y="350.5" width="4" height="29" fill="#fff" stroke="#000" stroke-width="1"/>
<rect x="183" y="354" width="1" height="8" fill="#000"/>
<rect x="183" y="386" width="1" height="6" fill="#000"/>
<rect x="181" y="362" width="5" height="24" fill="#000"/>
<rect x="191" y="360" width="1" height="14" fill="#000"/>
<rect x="189" y="331" width="5" height="29" fill="#000"/>
<rect x="199" y="357" width="1" height="41" fill="#000"/>
<rect x="197.5" y="398.5" width="4" height="20" fill="#fff" stroke="#000" stroke-width="1"/>
<rect x="207" y="339" width="1" height="3" fill="#000"/>
<rect x="207" y="357" width="1" height="26" fill="#000"/>
<rect x="205.5" y="342.5" width="4" height="14" fill="#fff" stroke="#000" stroke-width="1"/>
<rect x="215" y="355" width="1" height="16" fill="#000"/>
<rect x="215" y="405" width="1" height="3" fill="#000"/>
<rect x="213" y="371" width="5" height="34" fill="#000"/>
<rect x="223" y="376" width="1" height="1" fill="#000"/>
<rect x="223" y="426" width="1" height="3" fill="#000"/>
<rect x="221.5" y="377.5" width="4" height="48" fill="#fff" stroke="#000" stroke-width="1"/>
<rect x="231" y="379" width="1" height="4" fill="#000"/>
<rect x="231" y="395" width="1" height="4" fill="#000"/>
<rect x="229.5" y="383.5" width="4" height="11" fill="#fff" stroke="#000" stroke-width="1"/>
<rect x="239" y="330" width="1" height="47" fill="#000"/>
<rect x="237" y="340" width="5" height="2" fill="#000" />
<rect x="247" y="284" width="1" height="1" fill="#000"/>
<rect x="247" y="318" width="1" height="22" fill="#000"/>
<rect x="245.5" y="285.5" width="4" height="32" fill="#fff" stroke="#000" stroke-width="1"/>
<rect x="255" y="301" width="1" height="14" fill="#000"/>
<rect x="253" y="315" width="5" height="23" fill="#000"/>
<rect x="263" y="292" width="1" height="26" fill="#000"/>
<rect x="261" y="302" width="5" height="1" fill="#000" />
<rect x="271" y="271" width="1" height="16" fill="#000"/>
<rect x="271" y="297" width="1" height="4" fill="#000"/>
<rect x="269.5" y="287.5" width="4" height="9" fill="#fff" stroke="#000" stroke-width="1"/>
<rect x="279" y="270" width="1" height="16" fill="#000"/>
<rect x="279" y="316" width="1" height="2" fill="#000"/>
<rect x="277" y="286" width="5" height="30" fill="#000"/>
<rect x="287" y="309" width="1" height="14" fill="#000"/>
<rect x="287" y="326" width="1" height="7" fill="#000"/>
<rect x="285.5" y="323.5" width="4" height="2" fill="#fff" stroke="#000" stroke-width="1"/>
<rect x="295" y="264" width="1" height="14" fill="#000"/>
<rect x="295" y="292" width="1" height="6" fill="#000"/>
<rect x="293" y="278" width="5" height="14" fill="#000"/>
<rect x="303" y="281" width="1" height="25" fill="#000"/>
<rect x="301" y="296" width="5" height="2" fill="#000" />
<rect x="311" y="299" width="1" height="7" fill="#000"/>
<rect x="311" y="341" width="1" height="8" fill="#000"/>
<rect x="309" y="306" width="5" height="35" fill="#000"/>
<rect x="319" y="324" width="1" height="5" fill="#000"/>
<rect x="319" y="360" width="1" height="4" fill="#000"/>
<rect x="317.5" y="329.5" width="4" height="30" fill="#fff" stroke="#000" stroke-width="1"/>
<rect x="327" y="311" width="1" height="9" fill="#000"/>
<rect x="327" y="325" width="1" height="14" fill="#000"/>
<rect x="325.5" y="320.5" width="4" height="4" fill="#fff" stroke="#000" stroke-width="1"/>
<rect x="335" y="333" width="1" height="21" fill="#000"/>
<rect x="333" y="340" width="5" height="2" fill="#000" />
<rect x="343" y="300" width="1" height="4" fill="#000"/>
<rect x="343" y="327" width="1" height="1" fill="#000"/>
<rect x="341.5" y="304.5" width="4" height="22" fill="#fff" stroke="#000" stroke-width="1"/>
<rect x="351" y="295" width="1" height="20" fill="#000"/>
<rect x="349.5" y="273.5" width="4" height="21" fill="#fff" stroke="#000" stroke-width="1"/>
<rect x="359" y="257" width="1" height="14" fill="#000"/>
<rect x="359" y="280" width="1" height="4" fill="#000"/>
<rect x="357" y="271" width="5" height="9" fill="#000"/>
<rect x="367" y="340" width="1" height="3" fill="#000"/>
<rect x="367" y="370" width="1" height="5" fill="#000"/>
<rect x="365" y="343" width="5" height="27" fill="#000"/>
<rect x="375" y="335" width="1" height="3" fill="#000"/>
<rect x="375" y="352" width="1" height="5" fill="#000"/>
<rect x="373.5" y="338.5" width="4" height="13" fill="#fff" stroke="#000" stroke-width="1"/>
<rect x="383" y="308" width="1" height="7" fill="#000"/>
<rect x="383" y="349" width="1" height="1" fill="#000"/>
<rect x="381.5" y="315.5" width="4" height="33" fill="#fff" stroke="#000" stroke-width="1"/>
<rect x="391" y="321" width="1" height="5" fill="#000"/>
<rect x="391" y="331" width="1" height="7" fill="#000"/>
<rect x="389" y="326" width="5" height="5" fill="#000"/>
<rect x="399" y="304" width="1" height="5" fill="#000"/>
<rect x="399" y="313" width="1" height="7" fill="#000"/>
<rect x="397.5" y="309.5" width="4" height="3" fill="#fff" stroke="#000" stroke-width="1"/>
<rect x="407" y="263" width="1" height="17" fill="#000"/>
<rect x="407" y="293" width="1" height="3" fill="#000"/>
<rect x="405.5" y="280.5" width="4" height="12" fill="#fff" stroke="#000" stroke-width="1"/>
<rect x="415" y="294" width="1" height="7" fill="#000"/>
<rect x="415" y="308" width="1" height="11" fill="#000"/>
<rect x="413" y="301" width="5" height="7" fill="#000"/>
<rect x="423" y="299" width="1" height="14" fill="#000"/>
<rect x="423" y="324" width="1" height="5" fill="#000"/>
<rect x="421.5" y="313.5" width="4" height="10" fill="#fff" stroke="#000" stroke-width="1"/>
<rect x="431" y="322" width="1" height="1" fill="#000"/>
<rect x="431" y="345" width="1" height="3" fill="#000"/>
<rect x="429" y="323" width="5" height="22" fill="#000"/>
<rect x="439" y="326" width="1" height="10" fill="#000"/>
<rect x="439" y="346" width="1" height="10" fill="#000"/>
<rect x="437" y="336" width="5" height="10" fill="#000"/>
<rect x="445.5" y="324.5" width="4" height="26" fill="#fff" stroke="#000" stroke-width="1"/>
<rect x="455" y="276" width="1" height="15" fill="#000"/>
<rect x="455" y="296" width="1" height="4" fill="#000"/>
<rect x="453.5" y="291.5" width="4" height="4" fill="#fff" stroke="#000" stroke-width="1"/>
<rect x="463" y="280" width="1" height="3" fill="#000"/>
<rect x="463" y="295" width="1" height="4" fill="#000"/>
<rect x="461.5" y="283.5" width="4" height="11" fill="#fff" stroke="#000" stroke-width="1"/>
<rect x="471" y="281" width="1" height="7" fill="#000"/>
<rect x="471" y="310" width="1" height="1" fill="#000"/>
<rect x="469" y="288" width="5" height="22" fill="#000"/>
<rect x="477" y="342" width="5" height="81" fill="#000"/>
<rect x="487" y="403" width="1" height="5" fill="#000"/>
<rect x="487" y="415" width="1" height="24" fill="#000"/>
<rect x="485.5" y="408.5" width="4" height="6" fill="#fff" stroke="#000" stroke-width="1"/>
<rect x="495" y="360" width="1" height="10" fill="#000"/>
<rect x="493.5" y="370.5" width="4" height="17" fill="#fff" stroke="#000" stroke-width="1"/>
<rect x="503" y="375" width="1" height="7" fill="#000"/>
<rect x="503" y="401" width="1" height="5" fill="#000"/>
<rect x="501" y="382" width="5" height="19" fill="#000"/>
<rect x="511" y="379" width="1" height="24" fill="#000"/>
<rect x="511" y="408" width="1" height="28" fill="#000"/>
<rect x="509" y="403" width="5" height="5" fill="#000"/>
<rect x="519" y="408" width="1" height="9" fill="#000"/>
<rect x="519" y="429" width="1" height="19" fill="#000"/>
<rect x="517.5" y="417.5" width="4" height="11" fill="#fff" stroke="#000" stroke-width="1"/>
<rect x="527" y="346" width="1" height="18" fill="#000"/>
<rect x="525.5" y="364.5" width="4" height="21" fill="#fff" stroke="#000" stroke-width="1"/>
<rect x="535" y="322" width="1" height="2" fill="#000"/>
<rect x="535" y="350" width="1" height="8" fill="#000"/>
<rect x="533.5" y="324.5" width="4" height="25" fill="#fff" stroke="#000" stroke-width="1"/>
<rect x="543" y="301" width="1" height="12" fill="#000"/>
<rect x="541" y="291" width="5" height="10" fill="#000"/>
<rect x="551" y="273" width="1" height="3" fill="#000"/>
<rect x="551" y="296" width="1" height="14" fill="#000"/>
<rect x="549" y="276" width="5" height="20" fill="#000"/>
<rect x="559" y="256" width="1" height="7" fill="#000"/>
<rect x="559" y="300" width="1" height="6" fill="#000"/>
<rect x="557.5" y="263.5" width="4" height="36" fill="#fff" stroke="#000" stroke-width="1"/>
<rect x="567" y="240" width="1" height="4" fill="#000"/>
<rect x="567" y="261" width="1" height="11" fill="#000"/>
<rect x="565" y="244" width="5" height="17" fill="#000"/>
<rect x="575" y="224" width="1" height="27" fill="#000"/>
<rect x="575" y="258" width="1" height="4" fill="#000"/>
<rect x="573.5" y="251.5" width="4" height="6" fill="#fff" stroke="#000" stroke-width="1"/>
<rect x="583" y="219" width="1" height="30" fill="#000"/>
<rect x="581" y="238" width="5" height="1" fill="#000" />
<rect x="591" y="238" width="1" height="9" fill="#000"/>
<rect x="591" y="292" width="1" height="1" fill="#000"/>
<rect x="589" y="247" width="5" height="45" fill="#000"/>
<rect x="599" y="300" width="1" height="1" fill="#000"/>
<rect x="599" y="329" width="1" height="8" fill="#000"/>
<rect x="597.5" y="301.5" width="4" height="27" fill="#fff" stroke="#000" stroke-width="1"/>
<rect x="607" y="306" width="1" height="22" fill="#000"/>
<rect x="607" y="343" width="1" height="12" fill="#000"/>
<rect x="605" y="328" width="5" height="15" fill="#000"/>
<rect x="615" y="281" width="1" height="22" fill="#000"/>
<rect x="613" y="290" width="5" height="1" fill="#000" />
<rect x="623" y="281" width="1" height="6" fill="#000"/>
<rect x="623" y="294" width="1" height="19" fill="#000"/>
<rect x="621.5" y="287.5" width="4" height="6" fill="#fff" stroke="#000" stroke-width="1"/>
<rect x="631" y="284" width="1" height="8" fill="#000"/>
<rect x="631" y="299" width="1" height="19" fill="#000"/>
<rect x="629.5" y="292.5" width="4" height="6" fill="#fff" stroke="#000" stroke-width="1"/>
<rect x="639" y="261" width="1" height="9" fill="#000"/>
<rect x="639" y="297" width="1" height="4" fill="#000"/>
<rect x="637.5" y="270.5" width="4" height="26" fill="#fff" stroke="#000" stroke-width="1"/>
<rect x="647" y="269" width="1" height="13" fill="#000"/>
<rect x="645.5" y="282.5" width="4" height="8" fill="#fff" stroke="#000" stroke-width="1"/>
<rect x="655" y="241" width="1" height="2" fill="#000"/>
<rect x="655" y="269" width="1" height="40" fill="#000"/>
<rect x="653.5" y="243.5" width="4" height="25" fill="#fff" stroke="#000" stroke-width="1"/>
<rect x="663" y="243" width="1" height="5" fill="#000"/>
<rect x="663" y="279" width="1" height="4" fill="#000"/>
<rect x="661" y="248" width="5" height="31" fill="#000"/>
<rect x="671" y="272" width="1" height="20" fill="#000"/>
<rect x="669.5" y="292.5" width="4" height="5" fill="#fff" stroke="#000" stroke-width="1"/>
<rect x="679" y="285" width="1" height="13" fill="#000"/>
<rect x="679" y="316" width="1" height="10" fill="#000"/>
<rect x="677" y="298" width="5" height="18" fill="#000"/>
<rect x="687" y="286" width="1" height="4" fill="#000"/>
<rect x="687" y="300" width="1" height="15" fill="#000"/>
<rect x="685" y="290" width="5" height="10" fill="#000"/>
<rect x="695" y="227" width="1" height="1" fill="#000"/>
<rect x="695" y="283" width="1" height="7" fill="#000"/>
<rect x="693.5" y="228.5" width="4" height="54" fill="#fff" stroke="#000" stroke-width="1"/>
<rect x="703" y="206" width="1" height="9" fill="#000"/>
<rect x="701.5" y="215.5" width="4" height="18" fill="#fff" stroke="#000" stroke-width="1"/>
<rect x="711" y="124" width="1" height="9" fill="#000"/>
<rect x="711" y="200" width="1" height="1" fill="#000"/>
<rect x="709.5" y="133.5" width="4" height="66" fill="#fff" stroke="#000" stroke-width="1"/>
<rect x="719" y="96" width="1" height="14" fill="#000"/>
<rect x="719" y="163" width="1" height="2" fill="#000"/>
<rect x="717" y="110" width="5" height="53" fill="#000"/>
<rect x="727" y="133" width="1" height="18" fill="#000"/>
<rect x="727" y="156" width="1" height="14" fill="#000"/>
<rect x="725" y="151" width="5" height="5" fill="#000"/>
<rect x="735" y="128" width="1" height="9" fill="#000"/>
<rect x="735" y="141" width="1" height="19" fill="#000"/>
<rect x="733" y="137" width="5" height="4" fill="#000"/>
<rect x="743" y="146" width="1" height="11" fill="#000"/>
<rect x="743" y="185" width="1" height="11" fill="#000"/>
<rect x="741" y="157" width="5" height="28" fill="#000"/>
<rect x="751" y="150" width="1" height="22" fill="#000"/>
<rect x="751" y="181" width="1" height="2" fill="#000"/>
<rect x="749" y="172" width="5" height="9" fill="#000"/>
<rect x="759" y="185" width="1" height="2" fill="#000"/>
<rect x="759" y="197" width="1" height="23" fill="#000"/>
<rect x="757" y="187" width="5" height="10" fill="#000"/>
<rect x="767" y="168" width="1" height="9" fill="#000"/>
<rect x="767" y="201" width="1" height="14" fill="#000"/>
<rect x="765" y="177" width="5" height="24" fill="#000"/>
<rect x="775" y="189" width="1" height="4" fill="#000"/>
<rect x="775" y="247" width="1" height="2" fill="#000"/>
<rect x="773" y="193" width="5" height="54" fill="#000"/>
<rect x="783" y="218" width="1" height="21" fill="#000"/>
<rect x="781" y="226" width="5" height="2" fill="#000" />
<rect x="791" y="222" width="1" height="15" fill="#000"/>
<rect x="791" y="240" width="1" height="22" fill="#000"/>
<rect x="789.5" y="237.5" width="4" height="2" fill="#fff" stroke="#000" stroke-width="1"/>
<rect x="799" y="188" width="1" height="2" fill="#000"/>
<rect x="799" y="209" width="1" height="4" fill="#000"/>
<rect x="797.5" y="190.5" width="4" height="18" fill="#fff" stroke="#000" stroke-width="1"/>
<rect x="807" y="176" width="1" height="21" fill="#000"/>
<rect x="807" y="232" width="1" height="8" fill="#000"/>
<rect x="805" y="197" width="5" height="35" fill="#000"/>
<rect x="815" y="213" width="1" height="7" fill="#000"/>
<rect x="815" y="229" width="1" height="14" fill="#000"/>
<rect x="813.5" y="220.5" width="4" height="8" fill="#fff" stroke="#000" stroke-width="1"/>
<rect x="823" y="231" width="1" height="8" fill="#000"/>
<rect x="823" y="265" width="1" height="9" fill="#000"/>
<rect x="821" y="239" width="5" height="26" fill="#000"/>
<rect x="831" y="241" width="1" height="5" fill="#000"/>
<rect x="831" y="269" width="1" height="8" fill="#000"/>
<rect x="829" y="246" width="5" height="23" fill="#000"/>
<rect x="839" y="240" width="1" height="4" fill="#000"/>
<rect x="839" y="260" width="1" height="8" fill="#000"/>
<rect x="837" y="244" width="5" height="16" fill="#000"/>
<rect x="847" y="248" width="1" height="2" fill="#000"/>
<rect x="847" y="263" width="1" height="5" fill="#000"/>
<rect x="845.5" y="250.5" width="4" height="12" fill="#fff" stroke="#000" stroke-width="1"/>
<rect x="855" y="224" width="1" height="22" fill="#000"/>
<rect x="855" y="269" width="1" height="8" fill="#000"/>
<rect x="853" y="246" width="5" height="23" fill="#000"/>
<rect x="863" y="245" width="1" height="16" fill="#000"/>
<rect x="863" y="275" width="1" height="6" fill="#000"/>
<rect x="861" y="261" width="5" height="14" fill="#000"/>
<rect x="871" y="271" width="1" height="2" fill="#000"/>
<rect x="871" y="289" width="1" height="16" fill="#000"/>
<rect x="869" y="273" width="5" height="16" fill="#000"/>
<rect x="879" y="234" width="1" height="11" fill="#000"/>
<rect x="879" y="271" width="1" height="10" fill="#000"/>
<rect x="877.5" y="245.5" width="4" height="25" fill="#fff" stroke="#000" stroke-width="1"/>
<rect x="887" y="226" width="1" height="9" fill="#000"/>
<rect x="887" y="244" width="1" height="9" fill="#000"/>
<rect x="885.5" y="235.5" width="4" height="8" fill="#fff" stroke="#000" stroke-width="1"/>
<rect x="895" y="221" width="1" height="9" fill="#000"/>
<rect x="895" y="254" width="1" height="18" fill="#000"/>
<rect x="893" y="230" width="5" height="24" fill="#000"/>
<rect x="903" y="245" width="1" height="4" fill="#000"/>
<rect x="903" y="288" width="1" height="20" fill="#000"/>
<rect x="901" y="249" width="5" height="39" fill="#000"/>
<rect x="911" y="278" width="1" height="8" fill="#000"/>
<rect x="909.5" y="286.5" width="4" height="16" fill="#fff" stroke="#000" stroke-width="1"/>
<rect x="919" y="237" width="1" height="11" fill="#000"/>
<rect x="917.5" y="248.5" width="4" height="27" fill="#fff" stroke="#000" stroke-width="1"/>
<rect x="927" y="215" width="1" height="5" fill="#000"/>
<rect x="927" y="256" width="1" height="11" fill="#000"/>
<rect x="925.5" y="220.5" width="4" height="35" fill="#fff" stroke="#000" stroke-width="1"/>
<rect x="935" y="203" width="1" height="5" fill="#000"/>
<rect x="935" y="230" width="1" height="2" fill="#000"/>
<rect x="933" y="208" width="5" height="22" fill="#000"/>
<rect x="943" y="210" width="1" height="19" fill="#000"/>
<rect x="943" y="234" width="1" height="4" fill="#000"/>
<rect x="941" y="229" width="5" height="5" fill="#000"/>
<rect x="951" y="193" width="1" height="23" fill="#000"/>
<rect x="951" y="225" width="1" height="3" fill="#000"/>
<rect x="949.5" y="216.5" width="4" height="8" fill="#fff" stroke="#000" stroke-width="1"/>
<rect x="959" y="204" width="1" height="5" fill="#000"/>
<rect x="959" y="213" width="1" height="10" fill="#000"/>
<rect x="957" y="209" width="5" height="4" fill="#000"/>
<rect x="967" y="212" width="1" height="9" fill="#000"/>
<rect x="967" y="230" width="1" height="7" fill="#000"/>
<rect x="965" y="221" width="5" height="9" fill="#000"/>
<rect x="975" y="265" width="1" height="11" fill="#000"/>
<rect x="973" y="240" width="5" height="25" fill="#000"/>
<rect x="983" y="224" width="1" height="10" fill="#000"/>
<rect x="983" y="248" width="1" height="5" fill="#000"/>
<rect x="981.5" y="234.5" width="4" height="13" fill="#fff" stroke="#000" stroke-width="1"/>
<rect x="991" y="195" width="1" height="4" fill="#000"/>
<rect x="991" y="223" width="1" height="1" fill="#000"/>
<rect x="989.5" y="199.5" width="4" height="23" fill="#fff" stroke="#000" stroke-width="1"/>
<rect x="999" y="190" width="1" height="4" fill="#000"/>
<rect x="999" y="204" width="1" height="10" fill="#000"/>
<rect x="997" y="194" width="5" height="10" fill="#000"/>
<rect x="1007" y="191" width="1" height="5" fill="#000"/>
<rect x="1007" y="205" width="1" height="10" fill="#000"/>
<rect x="1005" y="196" width="5" height="9" fill="#000"/>
<rect x="1015" y="229" width="1" height="5" fill="#000"/>
<rect x="1013" y="203" width="5" height="26" fill="#000"/>
<rect x="1023" y="183" width="1" height="28" fill="#000"/>
<rect x="1023" y="228" width="1" height="3" fill="#000"/>
<rect x="1021.5" y="211.5" width="4" height="16" fill="#fff" stroke="#000" stroke-width="1"/>
<rect x="1031" y="176" width="1" height="18" fill="#000"/>
<rect x="1031" y="234" width="1" height="8" fill="#000"/>
<rect x="1029" y="194" width="5" height="40" fill="#000"/>
<rect x="1039" y="223" width="1" height="10" fill="#000"/>
<rect x="1039" y="237" width="1" height="14" fill="#000"/>
<rect x="1037.5" y="233.5" width="4" height="3" fill="#fff" stroke="#000" stroke-width="1"/>
<rect x="1047" y="224" width="1" height="9" fill="#000"/>
<rect x="1047" y="236" width="1" height="18" fill="#000"/>
<rect x="1045" y="233" width="5" height="3" fill="#000"/>
<rect x="1055" y="225" width="1" height="15" fill="#000"/>
<rect x="1055" y="246" width="1" height="11" fill="#000"/>
<rect x="1053" y="240" width="5" height="6" fill="#000"/>
<rect x="1063" y="256" width="1" height="30" fill="#000"/>
<rect x="1061" y="265" width="5" height="2" fill="#000" />
<rect x="1071" y="249" width="1" height="16" fill="#000"/>
<rect x="1071" y="278" width="1" height="6" fill="#000"/>
<rect x="1069" y="265" width="5" height="13" fill="#000"/>
<rect x="1079" y="258" width="1" height="7" fill="#000"/>
<rect x="1079" y="282" width="1" height="15" fill="#000"/>
<rect x="1077" y="265" width="5" height="17" fill="#000"/>
<rect x="1087" y="281" width="1" height="5" fill="#000"/>
<rect x="1087" y="300" width="1" height="8" fill="#000"/>
<rect x="1085.5" y="286.5" width="4" height="13" fill="#fff" stroke="#000" stroke-width="1"/>
<rect x="1095" y="301" width="1" height="1" fill="#000"/>
<rect x="1093" y="273" width="5" height="28" fill="#000"/>
<rect x="1103" y="277" width="1" height="6" fill="#000"/>
<rect x="1103" y="297" width="1" height="5" fill="#000"/>
<rect x="1101.5" y="283.5" width="4" height="13" fill="#fff" stroke="#000" stroke-width="1"/>
<rect x="1111" y="261" width="1" height="12" fill="#000"/>
<rect x="1111" y="277" width="1" height="5" fill="#000"/>
<rect x="1109" y="273" width="5" height="4" fill="#000"/>
<rect x="1119" y="257" width="1" height="2" fill="#000"/>
<rect x="1119" y="281" width="1" height="5" fill="#000"/>
<rect x="1117.5" y="259.5" width="4" height="21" fill="#fff" stroke="#000" stroke-width="1"/>
<rect x="1127" y="251" width="1" height="5" fill="#000"/>
<rect x="1127" y="263" width="1" height="9" fill="#000"/>
<rect x="1125" y="256" width="5" height="7" fill="#000"/>
<rect x="1135" y="264" width="1" height="12" fill="#000"/>
<rect x="1135" y="293" width="1" height="11" fill="#000"/>
<rect x="1133" y="276" width="5" height="17" fill="#000"/>
<rect x="1143" y="291" width="1" height="8" fill="#000"/>
<rect x="1141.5" y="282.5" width="4" height="8" fill="#fff" stroke="#000" stroke-width="1"/>
<rect x="1151" y="273" width="1" height="14" fill="#000"/>
<rect x="1151" y="328" width="1" height="3" fill="#000"/>
<rect x="1149" y="287" width="5" height="41" fill="#000"/>
<rect x="1159" y="347" width="1" height="3" fill="#000"/>
<rect x="1157" y="328" width="5" height="19" fill="#000"/>
<rect x="1167" y="338" width="1" height="5" fill="#000"/>
<rect x="1167" y="347" width="1" height="12" fill="#000"/>
<rect x="1165.5" y="343.5" width="4" height="3" fill="#fff" stroke="#000" stroke-width="1"/>
<rect x="1175" y="353" width="1" height="8" fill="#000"/>
<rect x="1175" y="379" width="1" height="7" fill="#000"/>
<rect x="1173" y="361" width="5" height="18" fill="#000"/>
<rect x="1183" y="361" width="1" height="3" fill="#000"/>
<rect x="1183" y="388" width="1" height="2" fill="#000"/>
<rect x="1181" y="364" width="5" height="24" fill="#000"/>
<rect x="1191" y="361" width="1" height="6" fill="#000"/>
<rect x="1189.5" y="367.5" width="4" height="15" fill="#fff" stroke="#000" stroke-width="1"/>
<rect x="1199" y="378" width="1" height="6" fill="#000"/>
<rect x="1197" y="352" width="5" height="26" fill="#000"/>
<rect x="1207" y="337" width="1" height="36" fill="#000"/>
<rect x="1205" y="364" width="5" height="1" fill="#000" />
<rect x="1215" y="323" width="1" height="3" fill="#000"/>
<rect x="1215" y="339" width="1" height="10" fill="#000"/>
<rect x="1213" y="326" width="5" height="13" fill="#000"/>
<rect x="1223" y="320" width="1" height="3" fill="#000"/>
<rect x="1223" y="329" width="1" height="7" fill="#000"/>
<rect x="1221.5" y="323.5" width="4" height="5" fill="#fff" stroke="#000" stroke-width="1"/>
<rect x="1231" y="298" width="1" height="7" fill="#000"/>
<rect x="1231" y="328" width="1" height="1" fill="#000"/>
<rect x="1229.5" y="305.5" width="4" height="22" fill="#fff" stroke="#000" stroke-width="1"/>
<rect x="1239" y="312" width="1" height="8" fill="#000"/>
<rect x="1237" y="304" width="5" height="8" fill="#000"/>
<rect x="1247" y="289" width="1" height="8" fill="#000"/>
<rect x="1247" y="317" width="1" height="1" fill="#000"/>
<rect x="1245" y="297" width="5" height="20" fill="#000"/>
<rect x="1255" y="262" width="1" height="3" fill="#000"/>
<rect x="1255" y="306" width="1" height="1" fill="#000"/>
<rect x="1253.5" y="265.5" width="4" height="40" fill="#fff" stroke="#000" stroke-width="1"/>
<rect x="1261" y="264" width="5" height="1" fill="#000" />
<rect x="1271" y="271" width="1" height="11" fill="#000"/>
<rect x="1269" y="255" width="5" height="16" fill="#000"/>
<rect x="1279" y="274" width="1" height="9" fill="#000"/>
<rect x="1279" y="313" width="1" height="2" fill="#000"/>
<rect x="1277" y="283" width="5" height="30" fill="#000"/>
<rect x="1287" y="284" width="1" height="7" fill="#000"/>
<rect x="1287" y="299" width="1" height="7" fill="#000"/>
<rect x="1285.5" y="291.5" width="4" height="7" fill="#fff" stroke="#000" stroke-width="1"/>
<rect x="1295" y="258" width="1" height="17" fill="#000"/>
<rect x="1295" y="280" width="1" height="6" fill="#000"/>
<rect x="1293.5" y="275.5" width="4" height="4" fill="#fff" stroke="#000" stroke-width="1"/>
<rect x="1303" y="273" width="1" height="14" fill="#000"/>
<rect x="1301" y="279" width="5" height="1" fill="#000" />
<rect x="1311" y="248" width="1" height="20" fill="#000"/>
<rect x="1309.5" y="268.5" width="4" height="4" fill="#fff" stroke="#000" stroke-width="1"/>
<rect x="1319" y="249" width="1" height="1" fill="#000"/>
<rect x="1319" y="271" width="1" height="7" fill="#000"/>
<rect x="1317.5" y="250.5" width="4" height="20" fill="#fff" stroke="#000" stroke-width="1"/>
<rect x="1327" y="242" width="1" height="4" fill="#000"/>
<rect x="1327" y="259" width="1" height="9" fill="#000"/>
<rect x="1325.5" y="246.5" width="4" height="12" fill="#fff" stroke="#000" stroke-width="1"/>
<rect x="1335" y="252" width="1" height="7" fill="#000"/>
<rect x="1335" y="263" width="1" height="11" fill="#000"/>
<rect x="1333" y="259" width="5" height="4" fill="#000"/>
<rect x="1343" y="255" width="1" height="8" fill="#000"/>
<rect x="1343" y="275" width="1" height="2" fill="#000"/>
<rect x="1341" y="263" width="5" height="12" fill="#000"/>
<rect x="1351" y="270" width="1" height="9" fill="#000"/>
<rect x="1351" y="291" width="1" height="10" fill="#000"/>
<rect x="1349.5" y="279.5" width="4" height="11" fill="#fff" stroke="#000" stroke-width="1"/>
<rect x="1359" y="276" width="1" height="16" fill="#000"/>
<rect x="1359" y="307" width="1" height="16" fill="#000"/>
<rect x="1357" y="292" width="5" height="15" fill="#000"/>
<rect x="1367" y="285" width="1" height="7" fill="#000"/>
<rect x="1367" y="307" width="1" height="1" fill="#000"/>
<rect x="1365.5" y="292.5" width="4" height="14" fill="#fff" stroke="#000" stroke-width="1"/>
<rect x="1375" y="236" width="1" height="1" fill="#000"/>
<rect x="1373.5" y="237.5" width="4" height="33" fill="#fff" stroke="#000" stroke-width="1"/>
<rect x="1383" y="234" width="1" height="10" fill="#000"/>
<rect x="1383" y="258" width="1" height="12" fill="#000"/>
<rect x="1381.5" y="244.5" width="4" height="13" fill="#fff" stroke="#000" stroke-width="1"/>
<rect x="1391" y="203" width="1" height="13" fill="#000"/>
<rect x="1389.5" y="174.5" width="4" height="28" fill="#fff" stroke="#000" stroke-width="1"/>
<rect x="1399" y="183" width="1" height="14" fill="#000"/>
<rect x="1397" y="174" width="5" height="9" fill="#000"/>
<rect x="1407" y="142" width="1" height="5" fill="#000"/>
<rect x="1407" y="158" width="1" height="6" fill="#000"/>
<rect x="1405" y="147" width="5" height="11" fill="#000"/>
<rect x="1415" y="124" width="1" height="4" fill="#000"/>
<rect x="1415" y="131" width="1" height="23" fill="#000"/>
<rect x="1413" y="128" width="5" height="3" fill="#000"/>
<rect x="1423" y="124" width="1" height="19" fill="#000"/>
<rect x="1421" y="139" width="5" height="1" fill="#000" />
<rect x="1431" y="120" width="1" height="11" fill="#000"/>
<rect x="1431" y="144" width="1" height="10" fill="#000"/>
<rect x="1429" y="131" width="5" height="13" fill="#000"/>
<rect x="1439" y="140" width="1" height="3" fill="#000"/>
<rect x="1439" y="151" width="1" height="15" fill="#000"/>
<rect x="1437.5" y="143.5" width="4" height="7" fill="#fff" stroke="#000" stroke-width="1"/>
<rect x="1447" y="123" width="1" height="4" fill="#000"/>
<rect x="1447" y="131" width="1" height="13" fill="#000"/>
<rect x="1445" y="127" width="5" height="4" fill="#000"/>
</g>
<rect x="1320" y="143" width="157" height="4" fill="#00ee00"/>
<text x="1416.8" y="178.9" font-size="20.5" fill="#00ff00" font-family="'Liberation Sans','Noto Sans CJK SC',sans-serif" textLength="108.1" lengthAdjust="spacing">多空转折点</text>
<line x1="1351.2" y1="305.3" x2="1459.06" y2="109.08" stroke="#ff0000" stroke-width="3.4"/>
<polygon points="1464.6,99 1463.7,111.63 1454.42,106.52" fill="#ff0000"/>
<rect x="648.5" y="88.5" width="61" height="18" fill="#fff" stroke="#ff0000" stroke-width="1"/>
<text x="679.1" y="103.9" font-size="17" fill="#ff0000" text-anchor="middle" textLength="57.8" lengthAdjust="spacingAndGlyphs" >26779.3</text>
<rect x="504.5" y="208.5" width="61" height="18" fill="#fff" stroke="#ff0000" stroke-width="1"/>
<text x="535.1" y="223.9" font-size="17" fill="#ff0000" text-anchor="middle" textLength="57.8" lengthAdjust="spacingAndGlyphs" >25270.2</text>
<rect x="566" y="217" width="10" height="1" fill="#ff0000" />
<rect x="1042.5" y="167.5" width="60" height="18" fill="#fff" stroke="#ff0000" stroke-width="1"/>
<text x="1072.6" y="182.9" font-size="17" fill="#ff0000" text-anchor="middle" textLength="57.8" lengthAdjust="spacingAndGlyphs" >25785.8</text>
<rect x="1032" y="176" width="10" height="1" fill="#ff0000" />
<rect x="1288.5" y="313.5" width="61" height="18" fill="#fff" stroke="#ff0000" stroke-width="1"/>
<text x="1319.1" y="328.9" font-size="17" fill="#ff0000" text-anchor="middle" textLength="57.8" lengthAdjust="spacingAndGlyphs" >23953.1</text>
<rect x="1350" y="322" width="10" height="1" fill="#ff0000" />
<rect x="1112.5" y="380.5" width="61" height="18" fill="#fff" stroke="#ff0000" stroke-width="1"/>
<text x="1143.1" y="395.9" font-size="17" fill="#ff0000" text-anchor="middle" textLength="57.8" lengthAdjust="spacingAndGlyphs" >23117.2</text>
<rect x="1174" y="389" width="10" height="1" fill="#ff0000" />
<rect x="1218.5" y="133.5" width="73" height="24" fill="#fff" stroke="#ff0000" stroke-width="1"/>
<text x="1255.1" y="154.9" font-size="23" fill="#ff0000" text-anchor="middle" textLength="69.8" lengthAdjust="spacingAndGlyphs" >26175.6</text>
<rect x="1208" y="145" width="10" height="1" fill="#ff0000" />
</g>
<rect x="0" y="21" width="1682" height="1" fill="#000" />
<rect x="1681" y="21" width="1" height="554" fill="#000"/>
<rect x="0" y="574" width="1682" height="1" fill="#000" />
<rect x="0" y="576" width="1682" height="1" fill="#000" />
<rect x="1681" y="576" width="1" height="171" fill="#000"/>
<rect x="0" y="746" width="1682" height="1" fill="#000" />
<rect x="0" y="748" width="1682" height="1" fill="#000" />
<rect x="1681" y="748" width="1" height="175" fill="#000"/>
<rect x="0" y="922" width="1682" height="1" fill="#000" />
<rect x="1727" y="19" width="1" height="926" fill="#e6e6e6"/>
<rect x="0" y="943" width="1728" height="2" fill="#ebebeb" />
<rect x="1682" y="43" width="2" height="1" fill="#000" />
<text x="1687" y="46.95" font-size="10.3" fill="#000" textLength="32.52" lengthAdjust="spacingAndGlyphs" stroke="#000" stroke-width="0.22">27448.0</text>
<rect x="1682" y="76" width="2" height="1" fill="#000" />
<text x="1687" y="79.95" font-size="10.3" fill="#000" textLength="32.52" lengthAdjust="spacingAndGlyphs" stroke="#000" stroke-width="0.22">27040.0</text>
<rect x="1682" y="109" width="2" height="1" fill="#000" />
<text x="1687" y="112.95" font-size="10.3" fill="#000" textLength="32.52" lengthAdjust="spacingAndGlyphs" stroke="#000" stroke-width="0.22">26632.0</text>
<rect x="1682" y="175" width="2" height="1" fill="#000" />
<text x="1687" y="178.95" font-size="10.3" fill="#000" textLength="32.52" lengthAdjust="spacingAndGlyphs" stroke="#000" stroke-width="0.22">25792.0</text>
<rect x="1682" y="208" width="2" height="1" fill="#000" />
<text x="1687" y="211.95" font-size="10.3" fill="#000" textLength="32.52" lengthAdjust="spacingAndGlyphs" stroke="#000" stroke-width="0.22">25384.0</text>
<rect x="1682" y="241" width="2" height="1" fill="#000" />
<text x="1687" y="244.95" font-size="10.3" fill="#000" textLength="32.52" lengthAdjust="spacingAndGlyphs" stroke="#000" stroke-width="0.22">24964.0</text>
<rect x="1682" y="274" width="2" height="1" fill="#000" />
<text x="1687" y="277.95" font-size="10.3" fill="#000" textLength="32.52" lengthAdjust="spacingAndGlyphs" stroke="#000" stroke-width="0.22">24556.0</text>
<rect x="1682" y="307" width="2" height="1" fill="#000" />
<text x="1687" y="310.95" font-size="10.3" fill="#000" textLength="32.52" lengthAdjust="spacingAndGlyphs" stroke="#000" stroke-width="0.22">24136.0</text>
<rect x="1682" y="340" width="2" height="1" fill="#000" />
<text x="1687" y="343.95" font-size="10.3" fill="#000" textLength="32.52" lengthAdjust="spacingAndGlyphs" stroke="#000" stroke-width="0.22">23728.0</text>
<rect x="1682" y="373" width="2" height="1" fill="#000" />
<text x="1687" y="376.95" font-size="10.3" fill="#000" textLength="32.52" lengthAdjust="spacingAndGlyphs" stroke="#000" stroke-width="0.22">23308.0</text>
<rect x="1682" y="406" width="2" height="1" fill="#000" />
<text x="1687" y="409.95" font-size="10.3" fill="#000" textLength="32.52" lengthAdjust="spacingAndGlyphs" stroke="#000" stroke-width="0.22">22900.0</text>
<rect x="1682" y="439" width="2" height="1" fill="#000" />
<text x="1687" y="442.95" font-size="10.3" fill="#000" textLength="32.52" lengthAdjust="spacingAndGlyphs" stroke="#000" stroke-width="0.22">22480.0</text>
<rect x="1682" y="472" width="2" height="1" fill="#000" />
<text x="1687" y="475.95" font-size="10.3" fill="#000" textLength="32.52" lengthAdjust="spacingAndGlyphs" stroke="#000" stroke-width="0.22">22072.0</text>
<rect x="1682" y="505" width="2" height="1" fill="#000" />
<text x="1687" y="508.95" font-size="10.3" fill="#000" textLength="32.52" lengthAdjust="spacingAndGlyphs" stroke="#000" stroke-width="0.22">21664.0</text>
<rect x="1682" y="538" width="2" height="1" fill="#000" />
<text x="1687" y="541.95" font-size="10.3" fill="#000" textLength="32.52" lengthAdjust="spacingAndGlyphs" stroke="#000" stroke-width="0.22">21244.0</text>
<rect x="1682" y="571" width="2" height="1" fill="#000" />
<text x="1687" y="574.95" font-size="10.3" fill="#000" textLength="32.52" lengthAdjust="spacingAndGlyphs" stroke="#000" stroke-width="0.22">20836.0</text>
<rect x="1683" y="91" width="41" height="11" fill="#ff0000"/>
<text x="1687.5" y="100" font-size="10.3" fill="#fff" textLength="32.27" lengthAdjust="spacingAndGlyphs" stroke="#fff" stroke-width="0.22">26779.3</text>
<rect x="1683" y="107" width="41" height="11" fill="#ff0000"/>
<text x="1687.5" y="116" font-size="10.3" fill="#fff" textLength="32.27" lengthAdjust="spacingAndGlyphs" stroke="#fff" stroke-width="0.22">26573.5</text>
<rect x="1683" y="124" width="41" height="11" fill="#000000"/>
<text x="1687.5" y="133" font-size="10.3" fill="#fff" textLength="32.27" lengthAdjust="spacingAndGlyphs" stroke="#fff" stroke-width="0.22">26368.0</text>
<rect x="1683" y="139" width="41" height="11" fill="#32cd32"/>
<text x="1687.5" y="148" font-size="10.3" fill="#fff" textLength="32.27" lengthAdjust="spacingAndGlyphs" stroke="#fff" stroke-width="0.22">26175.6</text>
<rect x="1683" y="156" width="41" height="11" fill="#0000ff"/>
<text x="1687.5" y="165" font-size="10.3" fill="#fff" textLength="32.27" lengthAdjust="spacingAndGlyphs" stroke="#fff" stroke-width="0.22">25956.1</text>
<rect x="1683" y="174" width="41" height="11" fill="#0000ff"/>
<text x="1687.5" y="183" font-size="10.3" fill="#fff" textLength="32.27" lengthAdjust="spacingAndGlyphs" stroke="#fff" stroke-width="0.22">25736.6</text>
<polygon points="1455.5,22 1466.5,22 1461,27.2" fill="#c0c0c0"/>
<rect x="7" y="628" width="1" height="13" fill="#c0c0c0"/>
<rect x="15" y="628" width="1" height="18" fill="#c0c0c0"/>
<rect x="23" y="628" width="1" height="19" fill="#c0c0c0"/>
<rect x="31" y="628" width="1" height="24" fill="#c0c0c0"/>
<rect x="39" y="628" width="1" height="26" fill="#c0c0c0"/>
<rect x="47" y="628" width="1" height="28" fill="#c0c0c0"/>
<rect x="55" y="628" width="1" height="30" fill="#c0c0c0"/>
<rect x="63" y="628" width="1" height="27" fill="#c0c0c0"/>
<rect x="71" y="628" width="1" height="30" fill="#c0c0c0"/>
<rect x="79" y="628" width="1" height="38" fill="#c0c0c0"/>
<rect x="87" y="628" width="1" height="42" fill="#c0c0c0"/>
<rect x="95" y="628" width="1" height="44" fill="#c0c0c0"/>
<rect x="103" y="628" width="1" height="54" fill="#c0c0c0"/>
<rect x="111" y="628" width="1" height="63" fill="#c0c0c0"/>
<rect x="119" y="628" width="1" height="76" fill="#c0c0c0"/>
<rect x="127" y="628" width="1" height="84" fill="#c0c0c0"/>
<rect x="135" y="628" width="1" height="94" fill="#c0c0c0"/>
<rect x="143" y="628" width="1" height="104" fill="#c0c0c0"/>
<rect x="151" y="628" width="1" height="102" fill="#c0c0c0"/>
<rect x="159" y="628" width="1" height="110" fill="#c0c0c0"/>
<rect x="167" y="628" width="1" height="106" fill="#c0c0c0"/>
<rect x="175" y="628" width="1" height="97" fill="#c0c0c0"/>
<rect x="183" y="628" width="1" height="91" fill="#c0c0c0"/>
<rect x="191" y="628" width="1" height="82" fill="#c0c0c0"/>
<rect x="199" y="628" width="1" height="79" fill="#c0c0c0"/>
<rect x="207" y="628" width="1" height="71" fill="#c0c0c0"/>
<rect x="215" y="628" width="1" height="67" fill="#c0c0c0"/>
<rect x="223" y="628" width="1" height="64" fill="#c0c0c0"/>
<rect x="231" y="628" width="1" height="60" fill="#c0c0c0"/>
<rect x="239" y="628" width="1" height="51" fill="#c0c0c0"/>
<rect x="247" y="628" width="1" height="41" fill="#c0c0c0"/>
<rect x="255" y="628" width="1" height="36" fill="#c0c0c0"/>
<rect x="263" y="628" width="1" height="30" fill="#c0c0c0"/>
<rect x="271" y="628" width="1" height="22" fill="#c0c0c0"/>
<rect x="279" y="628" width="1" height="19" fill="#c0c0c0"/>
<rect x="287" y="628" width="1" height="16" fill="#c0c0c0"/>
<rect x="295" y="628" width="1" height="12" fill="#c0c0c0"/>
<rect x="303" y="628" width="1" height="10" fill="#c0c0c0"/>
<rect x="311" y="628" width="1" height="10" fill="#c0c0c0"/>
<rect x="319" y="628" width="1" height="9" fill="#c0c0c0"/>
<rect x="327" y="628" width="1" height="8" fill="#c0c0c0"/>
<rect x="335" y="628" width="1" height="8" fill="#c0c0c0"/>
<rect x="343" y="628" width="1" height="6" fill="#c0c0c0"/>
<rect x="351" y="628" width="1" height="2" fill="#c0c0c0"/>
<rect x="359" y="628" width="1" height="1" fill="#c0c0c0"/>
<rect x="367" y="628" width="1" height="3" fill="#c0c0c0"/>
<rect x="375" y="628" width="1" height="4" fill="#c0c0c0"/>
<rect x="383" y="628" width="1" height="4" fill="#c0c0c0"/>
<rect x="391" y="628" width="1" height="4" fill="#c0c0c0"/>
<rect x="399" y="628" width="1" height="3" fill="#c0c0c0"/>
<rect x="407" y="628" width="1" height="1" fill="#c0c0c0"/>
<rect x="439" y="628" width="1" height="2" fill="#c0c0c0"/>
<rect x="463" y="627" width="1" height="2" fill="#c0c0c0"/>
<rect x="471" y="627" width="1" height="2" fill="#c0c0c0"/>
<rect x="479" y="628" width="1" height="6" fill="#c0c0c0"/>
<rect x="487" y="628" width="1" height="13" fill="#c0c0c0"/>
<rect x="495" y="628" width="1" height="14" fill="#c0c0c0"/>
<rect x="503" y="628" width="1" height="18" fill="#c0c0c0"/>
<rect x="511" y="628" width="1" height="21" fill="#c0c0c0"/>
<rect x="519" y="628" width="1" height="24" fill="#c0c0c0"/>
<rect x="527" y="628" width="1" height="22" fill="#c0c0c0"/>
<rect x="535" y="628" width="1" height="16" fill="#c0c0c0"/>
<rect x="543" y="628" width="1" height="10" fill="#c0c0c0"/>
<rect x="551" y="628" width="1" height="4" fill="#c0c0c0"/>
<rect x="559" y="628" width="1" height="1" fill="#c0c0c0"/>
<rect x="567" y="621" width="1" height="8" fill="#c0c0c0"/>
<rect x="575" y="616" width="1" height="13" fill="#c0c0c0"/>
<rect x="583" y="611" width="1" height="18" fill="#c0c0c0"/>
<rect x="591" y="611" width="1" height="18" fill="#c0c0c0"/>
<rect x="599" y="613" width="1" height="16" fill="#c0c0c0"/>
<rect x="607" y="618" width="1" height="11" fill="#c0c0c0"/>
<rect x="615" y="618" width="1" height="11" fill="#c0c0c0"/>
<rect x="623" y="617" width="1" height="12" fill="#c0c0c0"/>
<rect x="631" y="617" width="1" height="12" fill="#c0c0c0"/>
<rect x="639" y="615" width="1" height="14" fill="#c0c0c0"/>
<rect x="647" y="616" width="1" height="13" fill="#c0c0c0"/>
<rect x="655" y="613" width="1" height="16" fill="#c0c0c0"/>
<rect x="663" y="613" width="1" height="16" fill="#c0c0c0"/>
<rect x="671" y="615" width="1" height="14" fill="#c0c0c0"/>
<rect x="679" y="619" width="1" height="10" fill="#c0c0c0"/>
<rect x="687" y="620" width="1" height="9" fill="#c0c0c0"/>
<rect x="695" y="615" width="1" height="14" fill="#c0c0c0"/>
<rect x="703" y="611" width="1" height="18" fill="#c0c0c0"/>
<rect x="711" y="601" width="1" height="28" fill="#c0c0c0"/>
<rect x="719" y="596" width="1" height="33" fill="#c0c0c0"/>
<rect x="727" y="592" width="1" height="37" fill="#c0c0c0"/>
<rect x="735" y="587" width="1" height="42" fill="#c0c0c0"/>
<rect x="743" y="588" width="1" height="41" fill="#c0c0c0"/>
<rect x="751" y="589" width="1" height="40" fill="#c0c0c0"/>
<rect x="759" y="592" width="1" height="37" fill="#c0c0c0"/>
<rect x="767" y="594" width="1" height="35" fill="#c0c0c0"/>
<rect x="775" y="600" width="1" height="29" fill="#c0c0c0"/>
<rect x="783" y="604" width="1" height="25" fill="#c0c0c0"/>
<rect x="791" y="608" width="1" height="21" fill="#c0c0c0"/>
<rect x="799" y="608" width="1" height="21" fill="#c0c0c0"/>
<rect x="807" y="611" width="1" height="18" fill="#c0c0c0"/>
<rect x="815" y="613" width="1" height="16" fill="#c0c0c0"/>
<rect x="823" y="618" width="1" height="11" fill="#c0c0c0"/>
<rect x="831" y="623" width="1" height="6" fill="#c0c0c0"/>
<rect x="839" y="626" width="1" height="3" fill="#c0c0c0"/>
<rect x="847" y="628" width="1" height="1" fill="#c0c0c0"/>
<rect x="863" y="628" width="1" height="4" fill="#c0c0c0"/>
<rect x="871" y="628" width="1" height="7" fill="#c0c0c0"/>
<rect x="879" y="628" width="1" height="6" fill="#c0c0c0"/>
<rect x="887" y="628" width="1" height="4" fill="#c0c0c0"/>
<rect x="895" y="628" width="1" height="4" fill="#c0c0c0"/>
<rect x="903" y="628" width="1" height="7" fill="#c0c0c0"/>
<rect x="911" y="628" width="1" height="9" fill="#c0c0c0"/>
<rect x="919" y="628" width="1" height="6" fill="#c0c0c0"/>
<rect x="927" y="628" width="1" height="3" fill="#c0c0c0"/>
<rect x="935" y="628" width="1" height="1" fill="#c0c0c0"/>
<rect x="951" y="626" width="1" height="3" fill="#c0c0c0"/>
<rect x="959" y="624" width="1" height="5" fill="#c0c0c0"/>
<rect x="967" y="624" width="1" height="5" fill="#c0c0c0"/>
<rect x="975" y="627" width="1" height="2" fill="#c0c0c0"/>
<rect x="983" y="626" width="1" height="3" fill="#c0c0c0"/>
<rect x="991" y="623" width="1" height="6" fill="#c0c0c0"/>
<rect x="999" y="621" width="1" height="8" fill="#c0c0c0"/>
<rect x="1007" y="620" width="1" height="9" fill="#c0c0c0"/>
<rect x="1015" y="621" width="1" height="8" fill="#c0c0c0"/>
<rect x="1023" y="620" width="1" height="9" fill="#c0c0c0"/>
<rect x="1031" y="621" width="1" height="8" fill="#c0c0c0"/>
<rect x="1039" y="623" width="1" height="6" fill="#c0c0c0"/>
<rect x="1047" y="624" width="1" height="5" fill="#c0c0c0"/>
<rect x="1055" y="626" width="1" height="3" fill="#c0c0c0"/>
<rect x="1071" y="628" width="1" height="4" fill="#c0c0c0"/>
<rect x="1079" y="628" width="1" height="7" fill="#c0c0c0"/>
<rect x="1087" y="628" width="1" height="9" fill="#c0c0c0"/>
<rect x="1095" y="628" width="1" height="12" fill="#c0c0c0"/>
<rect x="1103" y="628" width="1" height="13" fill="#c0c0c0"/>
<rect x="1111" y="628" width="1" height="13" fill="#c0c0c0"/>
<rect x="1119" y="628" width="1" height="12" fill="#c0c0c0"/>
<rect x="1127" y="628" width="1" height="11" fill="#c0c0c0"/>
<rect x="1135" y="628" width="1" height="12" fill="#c0c0c0"/>
<rect x="1143" y="628" width="1" height="13" fill="#c0c0c0"/>
<rect x="1151" y="628" width="1" height="16" fill="#c0c0c0"/>
<rect x="1159" y="628" width="1" height="21" fill="#c0c0c0"/>
<rect x="1167" y="628" width="1" height="23" fill="#c0c0c0"/>
<rect x="1175" y="628" width="1" height="28" fill="#c0c0c0"/>
<rect x="1183" y="628" width="1" height="33" fill="#c0c0c0"/>
<rect x="1191" y="628" width="1" height="34" fill="#c0c0c0"/>
<rect x="1199" y="628" width="1" height="35" fill="#c0c0c0"/>
<rect x="1207" y="628" width="1" height="35" fill="#c0c0c0"/>
<rect x="1215" y="628" width="1" height="32" fill="#c0c0c0"/>
<rect x="1223" y="628" width="1" height="29" fill="#c0c0c0"/>
<rect x="1231" y="628" width="1" height="24" fill="#c0c0c0"/>
<rect x="1239" y="628" width="1" height="20" fill="#c0c0c0"/>
<rect x="1247" y="628" width="1" height="18" fill="#c0c0c0"/>
<rect x="1255" y="628" width="1" height="11" fill="#c0c0c0"/>
<rect x="1263" y="628" width="1" height="6" fill="#c0c0c0"/>
<rect x="1271" y="628" width="1" height="2" fill="#c0c0c0"/>
<rect x="1279" y="628" width="1" height="3" fill="#c0c0c0"/>
<rect x="1287" y="628" width="1" height="2" fill="#c0c0c0"/>
<rect x="1295" y="628" width="1" height="1" fill="#c0c0c0"/>
<rect x="1311" y="626" width="1" height="3" fill="#c0c0c0"/>
<rect x="1319" y="621" width="1" height="8" fill="#c0c0c0"/>
<rect x="1327" y="619" width="1" height="10" fill="#c0c0c0"/>
<rect x="1335" y="618" width="1" height="11" fill="#c0c0c0"/>
<rect x="1343" y="619" width="1" height="10" fill="#c0c0c0"/>
<rect x="1351" y="620" width="1" height="9" fill="#c0c0c0"/>
<rect x="1359" y="623" width="1" height="6" fill="#c0c0c0"/>
<rect x="1367" y="624" width="1" height="5" fill="#c0c0c0"/>
<rect x="1375" y="620" width="1" height="9" fill="#c0c0c0"/>
<rect x="1383" y="618" width="1" height="11" fill="#c0c0c0"/>
<rect x="1391" y="612" width="1" height="17" fill="#c0c0c0"/>
<rect x="1399" y="607" width="1" height="22" fill="#c0c0c0"/>
<rect x="1407" y="601" width="1" height="28" fill="#c0c0c0"/>
<rect x="1415" y="595" width="1" height="34" fill="#c0c0c0"/>
<rect x="1423" y="591" width="1" height="38" fill="#c0c0c0"/>
<rect x="1431" y="589" width="1" height="40" fill="#c0c0c0"/>
<rect x="1439" y="588" width="1" height="41" fill="#c0c0c0"/>
<rect x="1447" y="586" width="1" height="43" fill="#c0c0c0"/>
<path fill="none" stroke="#ff0000" stroke-width="1" shape-rendering="crispEdges" d="M639 614.5h3M645 614.5h3M651 614.5h3M657 614.5h3M663 614.5h3M699 614.5h3M705 614.5h2M597 624.5h2M873 624.5h3M1005 624.5h3M1077 624.5h3M1336 624.5h2M795 595.5h3M101 663.5h2M754 598.5h2M807 598.5h2M465 629.5h3M471 629.5h3M892 629.5h2M969 629.5h3M1095 629.5h3M411 630.5h3M417 630.5h3M423 630.5h3M429 630.5h3M435 630.5h3M441 630.5h3M447 630.5h3M453 630.5h3M459 630.5h2M477 630.5h3M483 630.5h3M586 630.5h2M897 630.5h3M963 630.5h3M1101 630.5h3M1317 630.5h2M976 628.5h2M981 628.5h3M1090 628.5h2M405 631.5h3M489 631.5h2M903 631.5h3M957 631.5h3M34 640.5h2M339 640.5h2M1144 640.5h2M1149 640.5h3M1287 640.5h2M94 660.5h3M369 634.5h3M375 634.5h3M381 634.5h3M579 634.5h2M1113 634.5h2M1305 634.5h2M627 615.5h3M633 615.5h3M669 615.5h3M675 615.5h3M681 615.5h3M687 615.5h3M693 615.5h3M849 615.5h3M1407 615.5h2M334 641.5h2M525 641.5h3M1155 641.5h3M65 651.5h2M1197 651.5h2M760 596.5h2M801 596.5h3M183 723.5h2M201 723.5h3M591 627.5h2M885 627.5h3M987 627.5h3M1324 627.5h2M747 600.5h3M1443 600.5h3M531 642.5h2M562 642.5h2M1161 642.5h3M1282 642.5h2M399 632.5h3M909 632.5h3M951 632.5h3M1107 632.5h2M1311 632.5h3M1012 623.5h2M1017 623.5h3M1071 623.5h3M1341 623.5h3M844 613.5h2M1413 613.5h3M616 617.5h2M855 617.5h2M1395 617.5h3M195 724.5h3M315 648.5h2M1269 648.5h3M303 653.5h2M1203 653.5h2M1257 653.5h3M766 594.5h2M789 594.5h3M357 635.5h3M363 635.5h3M502 635.5h2M1299 635.5h3M867 622.5h2M1023 622.5h3M1029 622.5h2M1065 622.5h3M1347 622.5h3M1353 622.5h3M999 625.5h3M604 621.5h2M1035 621.5h3M1041 621.5h3M1047 621.5h3M1053 621.5h3M1059 621.5h3M1359 621.5h3M1365 621.5h3M4 636.5h3M352 636.5h2M507 636.5h3M574 636.5h2M1120 636.5h2M387 633.5h3M393 633.5h3M495 633.5h3M916 633.5h2M921 633.5h3M927 633.5h3M933 633.5h3M939 633.5h3M945 633.5h3M880 626.5h2M993 626.5h3M1083 626.5h3M1329 626.5h3M718 610.5h2M837 610.5h2M771 593.5h3M783 593.5h3M22 638.5h3M345 638.5h3M514 638.5h2M1131 638.5h3M538 644.5h2M549 644.5h3M555 644.5h2M1173 644.5h3M88 658.5h3M1222 658.5h2M1227 658.5h3M1233 658.5h3M1239 658.5h3M1245 658.5h2M292 661.5h2M609 619.5h3M1383 619.5h3M621 616.5h3M1401 616.5h3M724 608.5h2M831 608.5h3M1425 608.5h2M10 637.5h3M16 637.5h3M1125 637.5h3M1294 637.5h2M310 650.5h2M1264 650.5h2M249 694.5h2M70 652.5h2M267 680.5h2M225 711.5h2M52 647.5h3M1185 647.5h2M214 718.5h2M862 620.5h2M1371 620.5h3M1377 620.5h2M189 725.5h3M1180 646.5h2M46 645.5h3M322 645.5h2M543 645.5h3M1276 645.5h2M82 656.5h3M41 643.5h2M328 643.5h2M1167 643.5h3M1431 605.5h2M76 654.5h3M1215 657.5h3M1389 618.5h3M819 603.5h3M231 707.5h2M28 639.5h3M519 639.5h2M568 639.5h2M1137 639.5h3M741 602.5h3M1437 602.5h2M59 649.5h2M1191 649.5h2M177 722.5h3M1209 655.5h2M1252 655.5h2M112 669.5h2M262 684.5h2M777 592.5h3M107 666.5h2M735 604.5h3M1419 611.5h2M208 721.5h2M814 601.5h2M125 677.5h2M712 612.5h2M238 702.5h2M730 606.5h2M826 606.5h2M280 670.5h2M1281.5 643v1M160.5 711v1M327.5 644v1M297.5 658v1M40.5 642v1M135.5 687v1M521.5 640v1M753.5 599v1M1319.5 629v1M287.5 665v1M0.5 636v1M136.5 688v1M599.5 623v1M257.5 688v1M1263.5 651v1M285.5 667v1M286.5 666v1M861.5 619v1M729.5 607v1M261.5 685v1M975.5 629v1M251.5 693v1M1179.5 645v1M711.5 613v1M317.5 647v1M137.5 689v1M154.5 705v1M1031.5 621v1M147.5 699v1M165.5 714v1M869.5 623v1M255.5 690v1M1323.5 628v1M143.5 695v1M72.5 653v1M809.5 599v1M603.5 622v1M227.5 710v1M132.5 683v1M172.5 719v1M891.5 628v1M244.5 698v1M537.5 643v1M765.5 595v1M173.5 720v1M593.5 626v1M1421.5 610v1M585.5 631v1M161.5 712v1M243.5 699v1M839.5 611v1M1251.5 656v1M185.5 724v1M1335.5 625v1M491.5 632v1M141.5 693v1M707.5 613v1M130.5 681v1M305.5 652v1M825.5 605v1M291.5 662v1M131.5 682v1M171.5 718v1M857.5 618v1M533.5 643v1M142.5 694v1M159.5 710v1M118.5 672v1M245.5 697v1M1205.5 654v1M1187.5 648v1M1011.5 624v1M207.5 722v1M155.5 706v1M148.5 700v1M1439.5 601v1M166.5 715v1M119.5 673v1M269.5 679v1M274.5 675v1M1115.5 635v1M561.5 643v1M321.5 646v1M461.5 629v1M167.5 716v1M1119.5 635v1M1379.5 619v1M36.5 641v1M114.5 670v1M501.5 634v1M149.5 701v1M581.5 633v1M100.5 662v1M1109.5 633v1M120.5 674v1M1427.5 607v1M1307.5 633v1M1221.5 657v1M351.5 637v1M1211.5 656v1M64.5 650v1M573.5 637v1M1289.5 639v1M1193.5 650v1M615.5 618v1M1433.5 604v1M124.5 676v1M299.5 656v1M557.5 643v1M275.5 674v1M309.5 651v1M513.5 637v1M298.5 657v1M1143.5 639v1M273.5 676v1M333.5 642v1M279.5 671v1M1293.5 638v1M759.5 597v1M843.5 612v1M1409.5 614v1M221.5 714v1M567.5 640v1M1199.5 652v1M341.5 639v1M213.5 719v1M233.5 706v1M879.5 625v1M219.5 716v1M220.5 715v1M1089.5 627v1M256.5 689v1M153.5 704v1M106.5 665v1M1275.5 646v1M237.5 703v1M813.5 600v1M723.5 609v1M1247.5 657v1M717.5 611v1M915.5 632v1M58.5 648v1"/>
<text x="-2.5" y="589" font-size="10.3" fill="#000" textLength="125.5" lengthAdjust="spacingAndGlyphs" stroke="#000" stroke-width="0.22">MACD(12,26,9) 520.69 369.33</text>
<text x="1684.6" y="586.85" font-size="10.3" fill="#000" textLength="27.51" lengthAdjust="spacingAndGlyphs" stroke="#000" stroke-width="0.22">612.92</text>
<rect x="1682" y="578" width="1" height="1" fill="#000" />
<rect x="1682" y="628" width="1" height="1" fill="#000" />
<text x="1684.6" y="632.05" font-size="10.3" fill="#000" textLength="17.51" lengthAdjust="spacingAndGlyphs" stroke="#000" stroke-width="0.22">0.00</text>
<text x="1684.6" y="743.45" font-size="10.3" fill="#000" textLength="35.51" lengthAdjust="spacingAndGlyphs" stroke="#000" stroke-width="0.22">-1415.99</text>
<rect x="1682" y="744" width="1" height="1" fill="#000" />
<line x1="0" y1="784.5" x2="1681" y2="784.5" stroke="#c0c0c0" stroke-width="1" stroke-dasharray="3,3"/>
<line x1="0" y1="835.5" x2="1681" y2="835.5" stroke="#c0c0c0" stroke-width="1" stroke-dasharray="3,3"/>
<line x1="0" y1="896.5" x2="1681" y2="896.5" stroke="#c0c0c0" stroke-width="1" stroke-dasharray="3,3"/>
<path fill="none" stroke="#1e90ff" stroke-width="1" shape-rendering="crispEdges" d="M255 839.5h2M314 839.5h4M331 839.5h2M376 839.5h2M679 839.5h2M846 839.5h3M1053 839.5h2M1124 839.5h4M1279 839.5h2M210 845.5h2M223 845.5h5M367 845.5h3M496 845.5h2M862 845.5h3M311 840.5h3M333 840.5h2M442 840.5h2M842 840.5h4M849 840.5h2M1364 840.5h2M234 843.5h2M823 843.5h5M833 843.5h3M855 843.5h3M1058 843.5h2M1220 843.5h2M1360 843.5h2M1157 865.5h2M1162 865.5h4M1196 865.5h2M580 815.5h2M559 819.5h11M695 819.5h3M1319 819.5h3M1375 819.5h2M570 818.5h4M698 818.5h4M1322 818.5h4M140 884.5h4M261 836.5h2M279 836.5h5M288 836.5h2M306 836.5h2M381 836.5h2M385 836.5h3M395 836.5h2M685 836.5h2M778 836.5h2M790 836.5h2M892 836.5h2M1031 836.5h18M1238 836.5h4M39 858.5h5M49 858.5h3M87 858.5h2M1093 858.5h2M372 842.5h2M431 842.5h9M836 842.5h2M853 842.5h2M543 826.5h5M637 826.5h2M641 826.5h2M764 826.5h4M951 826.5h5M960 826.5h2M1307 826.5h2M1336 826.5h2M348 829.5h2M358 829.5h2M408 829.5h2M458 829.5h4M464 829.5h2M537 829.5h2M591 829.5h2M620 829.5h8M632 829.5h2M924 829.5h2M932 829.5h2M946 829.5h2M964 829.5h2M1341 829.5h2M269 832.5h2M272 832.5h2M295 832.5h5M344 832.5h2M412 832.5h2M468 832.5h2M598 832.5h2M668 832.5h2M814 832.5h2M886 832.5h2M920 832.5h2M1348 832.5h2M63 844.5h2M828 844.5h5M858 844.5h4M1428 803.5h8M1441 803.5h3M267 833.5h2M274 833.5h2M293 833.5h2M300 833.5h4M400 833.5h2M670 833.5h2M783 833.5h2M812 833.5h2M884 833.5h2M888 833.5h2M1016 833.5h2M1350 833.5h2M508 850.5h6M1069 850.5h2M1136 850.5h2M1 854.5h3M11 854.5h2M19 854.5h2M484 854.5h2M1086 854.5h2M404 830.5h2M455 830.5h3M535 830.5h2M593 830.5h3M615 830.5h5M628 830.5h4M663 830.5h2M934 830.5h6M944 830.5h2M1020 830.5h2M1290 830.5h2M1343 830.5h2M180 848.5h2M185 848.5h3M195 848.5h2M217 848.5h2M501 848.5h2M870 848.5h2M1065 848.5h2M1105 848.5h3M556 821.5h2M743 821.5h5M752 821.5h2M1265 821.5h3M1380 821.5h2M35 860.5h2M54 860.5h2M91 860.5h2M15 856.5h2M479 856.5h2M1090 856.5h2M259 837.5h2M284 837.5h4M324 837.5h5M388 837.5h2M393 837.5h2M676 837.5h2M683 837.5h2M776 837.5h2M1049 837.5h2M1242 837.5h4M265 834.5h2M415 834.5h5M450 834.5h2M672 834.5h2M781 834.5h2M785 834.5h3M809 834.5h3M881 834.5h3M1231 834.5h3M182 849.5h3M197 849.5h2M215 849.5h2M503 849.5h5M1067 849.5h2M1103 849.5h2M1138 849.5h2M748 820.5h4M1255 820.5h10M1317 820.5h2M1377 820.5h3M175 846.5h2M190 846.5h3M221 846.5h2M228 846.5h4M498 846.5h2M865 846.5h3M908 846.5h4M1110 846.5h2M1216 846.5h2M263 835.5h2M277 835.5h2M290 835.5h2M383 835.5h2M397 835.5h2M420 835.5h4M788 835.5h2M807 835.5h2M879 835.5h2M1234 835.5h4M4 853.5h2M9 853.5h2M21 853.5h2M486 853.5h2M1082 853.5h4M351 827.5h3M541 827.5h2M643 827.5h2M927 827.5h2M949 827.5h2M1295 827.5h5M1305 827.5h2M1338 827.5h2M754 822.5h2M1268 822.5h2M1314 822.5h2M1382 822.5h2M31 862.5h2M151 862.5h2M1152 862.5h2M440 841.5h2M838 841.5h4M851 841.5h2M1154 863.5h2M1191 863.5h2M1202 863.5h2M1166 864.5h2M1193 864.5h3M596 831.5h2M665 831.5h3M940 831.5h4M1288 831.5h2M1345 831.5h3M257 838.5h2M318 838.5h6M329 838.5h2M378 838.5h2M390 838.5h3M426 838.5h2M445 838.5h2M681 838.5h2M1051 838.5h2M1119 838.5h5M1226 838.5h2M1246 838.5h2M177 847.5h3M188 847.5h2M193 847.5h2M219 847.5h2M868 847.5h2M903 847.5h5M1063 847.5h2M1108 847.5h2M1141 847.5h2M991 823.5h3M1270 823.5h2M1312 823.5h2M354 828.5h4M462 828.5h2M539 828.5h2M634 828.5h2M645 828.5h2M929 828.5h3M1293 828.5h2M1300 828.5h5M1398 808.5h2M552 824.5h2M757 824.5h2M994 824.5h4M6 852.5h3M518 852.5h2M1076 852.5h6M13 855.5h2M17 855.5h2M481 855.5h3M1088 855.5h2M724 811.5h6M103 873.5h5M1178 873.5h4M1408 802.5h2M1423 802.5h5M1444 802.5h2M548 825.5h4M639 825.5h2M759 825.5h5M956 825.5h4M998 825.5h10M1309 825.5h2M37 859.5h2M52 859.5h2M89 859.5h2M1393 806.5h3M1402 806.5h2M582 814.5h2M120 882.5h2M1159 866.5h3M1198 866.5h2M128 878.5h2M574 817.5h3M702 817.5h2M1326 817.5h2M1396 807.5h2M1400 807.5h2M33 861.5h2M93 861.5h2M1415 798.5h2M734 809.5h2M158 872.5h2M1175 872.5h3M577 816.5h3M514 851.5h4M1071 851.5h5M730 810.5h4M108 874.5h4M1182 874.5h2M1410 801.5h2M1421 801.5h2M1446 801.5h2M44 857.5h5M132 881.5h2M135 883.5h5M1391 805.5h2M1413 799.5h2M1417 799.5h2M1419 800.5h2M719 812.5h5M124 879.5h2M1405 804.5h2M1436 804.5h5M1275.5 831v2M375.5 840v1M29.5 859v2M774.5 836v2M112.5 875v1M972.5 838v2M81.5 868v2M705.5 813v2M523.5 845v2M1287.5 832v1M454.5 831v1M1271.5 824v1M1249.5 833v2M1115.5 842v1M694.5 820v2M872.5 846v2M340.5 836v1M1100.5 853v1M1229.5 836v1M1218.5 845v1M584.5 815v2M982.5 834v1M1272.5 825v2M360.5 831v2M447.5 837v1M1112.5 845v1M895.5 838v1M1390.5 807v2M100.5 869v1M1149.5 857v2M1222.5 842v1M1358.5 842v2M207.5 842v1M1130.5 843v2M73.5 860v2M902.5 846v1M690.5 828v2M1248.5 835v2M769.5 829v1M242.5 836v1M473.5 839v2M816.5 833v2M1186.5 870v1M1131.5 845v1M66.5 848v2M85.5 861v2M1386.5 815v2M1134.5 849v2M739.5 815v1M990.5 824v1M967.5 831v1M276.5 834v1M918.5 834v2M710.5 805v2M150.5 863v3M1253.5 824v2M1210.5 854v2M173.5 848v2M363.5 837v2M792.5 834v2M971.5 837v1M1370.5 830v3M477.5 850v2M62.5 845v2M1385.5 817v2M149.5 866v3M99.5 867v2M656.5 821v1M1092.5 857v1M1148.5 855v2M1369.5 833v2M1145.5 849v2M58.5 853v2M69.5 853v2M803.5 830v1M1129.5 842v1M430.5 841v1M963.5 828v1M773.5 835v1M80.5 870v2M970.5 835v2M1213.5 850v1M804.5 831v1M1008.5 826v1M1374.5 821v2M609.5 839v1M366.5 843v2M601.5 834v2M974.5 841v2M526.5 840v2M891.5 835v1M495.5 844v1M1009.5 827v1M233.5 844v1M894.5 837v1M476.5 847v3M602.5 836v1M1274.5 829v2M202.5 847v1M362.5 835v2M978.5 839v1M1156.5 864v1M1328.5 818v1M655.5 820v1M248.5 832v1M689.5 830v2M237.5 841v1M712.5 805v1M214.5 848v1M875.5 841v2M878.5 836v2M795.5 830v2M102.5 871v2M713.5 806v1M1151.5 861v1M1024.5 829v1M472.5 836v3M534.5 831v1M145.5 877v3M989.5 825v2M652.5 823v1M335.5 841v1M1335.5 825v1M1316.5 821v1M65.5 846v2M1133.5 848v1M1282.5 837v1M148.5 869v3M370.5 844v1M68.5 851v2M1117.5 840v1M772.5 833v2M529.5 837v1M1200.5 865v1M981.5 835v2M532.5 833v1M647.5 829v1M449.5 835v1M1389.5 809v2M61.5 847v2M890.5 834v1M742.5 819v2M693.5 822v2M365.5 841v2M144.5 880v3M122.5 881v1M84.5 863v2M114.5 877v1M1019.5 831v1M213.5 847v1M244.5 834v1M308.5 837v1M411.5 831v1M1368.5 835v2M163.5 864v2M57.5 855v2M1023.5 828v1M309.5 838v1M917.5 836v2M709.5 807v2M658.5 824v1M152.5 863v1M1209.5 856v1M206.5 843v1M1212.5 851v2M817.5 835v1M608.5 840v2M1132.5 846v2M659.5 825v1M525.5 842v2M775.5 838v1M1174.5 871v1M167.5 856v2M818.5 836v1M23.5 852v1M1144.5 847v2M1384.5 819v2M1204.5 862v1M1030.5 835v1M56.5 857v2M453.5 832v1M969.5 834v1M590.5 827v2M403.5 831v1M1114.5 843v1M1251.5 828v3M339.5 837v1M874.5 843v1M612.5 834v2M361.5 833v2M478.5 852v3M364.5 839v2M1224.5 840v1M113.5 876v1M973.5 840v1M407.5 828v1M923.5 830v1M605.5 839v2M798.5 826v2M0.5 855v1M1173.5 870v1M475.5 844v3M1247.5 837v1M147.5 872v2M1185.5 871v1M1188.5 867v1M151.5 861v1M1388.5 811v2M897.5 840v1M1128.5 840v2M1147.5 853v2M342.5 834v1M208.5 843v1M805.5 832v2M688.5 832v2M471.5 834v2M239.5 839v1M209.5 844v1M806.5 834v1M1143.5 846v1M346.5 831v1M304.5 834v1M1372.5 825v3M1407.5 803v1M170.5 852v1M968.5 832v2M350.5 828v1M1102.5 850v1M1011.5 829v2M1228.5 837v1M1060.5 844v1M654.5 821v1M603.5 837v1M896.5 839v1M1284.5 835v1M604.5 838v1M657.5 822v2M1097.5 856v2M166.5 858v2M649.5 827v1M60.5 849v2M1352.5 834v2M692.5 824v2M661.5 827v2M715.5 808v1M1353.5 836v1M915.5 839v2M1250.5 831v2M611.5 836v1M820.5 839v1M204.5 845v1M528.5 838v1M1135.5 851v1M1146.5 851v2M980.5 837v1M1367.5 837v2M162.5 866v2M877.5 838v2M554.5 823v1M794.5 832v1M1056.5 841v1M146.5 874v3M1329.5 819v1M115.5 878v2M975.5 843v1M589.5 825v2M558.5 820v1M756.5 823v1M1018.5 832v1M1330.5 820v1M337.5 839v1M1184.5 872v2M116.5 880v1M380.5 837v1M988.5 827v1M161.5 868v2M78.5 870v2M531.5 834v2M310.5 839v1M1292.5 829v1M250.5 834v1M444.5 839v1M687.5 834v2M1116.5 841v1M500.5 847v1M154.5 865v2M899.5 842v2M1025.5 830v1M1055.5 840v1M983.5 833v1M1371.5 828v2M448.5 836v1M819.5 837v2M470.5 833v1M1215.5 847v1M797.5 828v1M873.5 844v2M1279.5 840v1M25.5 854v2M246.5 832v1M402.5 832v1M1010.5 828v1M1187.5 868v2M1168.5 865v1M1096.5 858v1M249.5 833v1M1022.5 829v1M1340.5 828v1M165.5 860v2M489.5 851v1M492.5 847v1M359.5 830v1M199.5 850v1M714.5 807v1M607.5 842v1M914.5 841v1M706.5 812v1M1206.5 860v1M1252.5 826v2M169.5 853v2M466.5 830v1M172.5 850v1M474.5 841v3M1355.5 838v2M97.5 865v1M55.5 859v1M153.5 864v1M614.5 831v2M341.5 835v1M1230.5 835v1M374.5 841v1M660.5 826v1M428.5 839v1M406.5 829v1M922.5 831v1M1099.5 854v1M588.5 823v2M736.5 810v2M160.5 870v2M926.5 828v1M126.5 878v1M59.5 851v2M1013.5 832v1M1062.5 846v1M77.5 868v2M606.5 841v1M134.5 882v1M648.5 828v1M1373.5 823v2M241.5 837v1M678.5 838v1M522.5 847v1M1362.5 842v1M610.5 837v2M156.5 868v2M986.5 829v1M1366.5 839v1M1354.5 837v1M74.5 862v2M157.5 870v1M203.5 846v1M24.5 853v1M822.5 841v2M876.5 840v1M770.5 830v2M1286.5 833v1M1012.5 831v1M1278.5 837v2M1190.5 864v2M740.5 816v2M305.5 835v1M636.5 827v1M587.5 821v2M651.5 824v2M336.5 840v1M1061.5 845v1M674.5 835v1M96.5 863v2M530.5 836v1M76.5 866v2M118.5 882v1M898.5 841v1M164.5 862v2M796.5 829v1M491.5 848v2M494.5 845v1M232.5 845v1M821.5 840v1M913.5 842v2M236.5 842v1M1208.5 857v2M948.5 828v1M780.5 835v1M521.5 848v2M1118.5 839v1M533.5 832v1M1201.5 864v1M985.5 830v2M1170.5 867v1M1331.5 821v1M1404.5 805v1M1205.5 861v1M1225.5 839v1M95.5 862v1M1171.5 868v1M1332.5 822v1M1281.5 838v1M168.5 855v1M252.5 836v1M662.5 829v1M977.5 840v2M716.5 809v1M613.5 833v1M799.5 825v1M245.5 833v1M26.5 856v1M1255.5 821v1M27.5 857v1M1027.5 832v1M1277.5 835v2M1057.5 842v1M1095.5 859v1M83.5 865v1M201.5 848v1M586.5 819v2M243.5 835v1M738.5 813v2M966.5 830v1M117.5 881v1M916.5 838v1M1169.5 866v1M708.5 809v1M343.5 833v1M1412.5 800v1M79.5 872v1M251.5 835v1M155.5 867v1M900.5 844v1M271.5 831v1M1026.5 831v1M1383.5 821v1M75.5 864v2M143.5 883v1M1101.5 851v2M452.5 833v1M901.5 845v1M912.5 844v2M1219.5 844v1M72.5 858v2M704.5 815v2M159.5 873v1M1113.5 844v1M768.5 827v2M1357.5 841v1M520.5 850v2M1189.5 866v1M1276.5 833v2M1098.5 855v1M691.5 826v2M479.5 855v1M1140.5 848v1M30.5 861v1M1387.5 813v2M240.5 838v1M524.5 844v1M1311.5 824v1M347.5 830v1M205.5 844v1M171.5 851v1M467.5 831v1M1356.5 840v1M98.5 866v1M82.5 866v2M1223.5 841v1M490.5 850v1M1285.5 834v1M429.5 840v1M962.5 827v1M158.5 871v1M338.5 838v1M650.5 826v1M653.5 822v1M64.5 845v1M414.5 833v1M737.5 812v1M802.5 829v1M86.5 859v2M1283.5 836v1M585.5 817v2M1273.5 827v2M741.5 818v1M1211.5 853v1M1214.5 848v2M1014.5 833v1M174.5 847v1M711.5 804v1M1254.5 822v2M555.5 822v1M1015.5 834v1M1150.5 859v2M976.5 842v1M1333.5 823v1M410.5 830v1M801.5 827v2M1334.5 824v1M70.5 855v2M793.5 833v1M707.5 810v2M1391.5 806v1M1359.5 844v1M71.5 857v1M771.5 832v1M101.5 870v1M131.5 880v1M292.5 834v1M367.5 846v1M984.5 832v1M1207.5 859v1M987.5 828v1M371.5 843v1M399.5 834v1M600.5 833v1M675.5 836v1M212.5 846v1M424.5 836v1M1375.5 820v1M247.5 831v1M527.5 839v1M979.5 838v1M919.5 833v1M119.5 883v1M425.5 837v1M238.5 840v1M123.5 880v1M1172.5 869v1M253.5 837v1M493.5 846v1M717.5 810v1M800.5 826v1M1028.5 833v1M200.5 849v1M127.5 877v1M254.5 838v1M130.5 879v1M1363.5 841v1M718.5 811v1M67.5 850v1M1029.5 834v1M488.5 852v1M28.5 858v1M63.5 843v1"/>
<text x="-2.5" y="761" font-size="10.3" fill="#000" textLength="66" lengthAdjust="spacingAndGlyphs" stroke="#000" stroke-width="0.22">RSI(14) 70.0492</text>
<text x="1684.6" y="759.25" font-size="10.3" fill="#000" textLength="15.01" lengthAdjust="spacingAndGlyphs" stroke="#000" stroke-width="0.22">100</text>
<rect x="1682" y="750" width="1" height="1" fill="#000" />
<text x="1684.6" y="788.05" font-size="10.3" fill="#000" textLength="10.01" lengthAdjust="spacingAndGlyphs" stroke="#000" stroke-width="0.22">80</text>
<text x="1684.6" y="839.05" font-size="10.3" fill="#000" textLength="10.01" lengthAdjust="spacingAndGlyphs" stroke="#000" stroke-width="0.22">50</text>
<text x="1684.6" y="899.95" font-size="10.3" fill="#000" textLength="10.01" lengthAdjust="spacingAndGlyphs" stroke="#000" stroke-width="0.22">15</text>
<text x="1684.6" y="918.85" font-size="10.3" fill="#000" textLength="5" lengthAdjust="spacingAndGlyphs" stroke="#000" stroke-width="0.22">0</text>
<rect x="1682" y="920" width="1" height="1" fill="#000" />
<rect x="-9" y="923" width="1" height="3" fill="#000"/>
<text x="3.6" y="935.2" font-size="10.3" fill="#000" textLength="39.43" lengthAdjust="spacingAndGlyphs" stroke="#000" stroke-width="0.22">Feb 2020</text>
<rect x="55" y="923" width="1" height="3" fill="#000"/>
<text x="54.1" y="935.2" font-size="10.3" fill="#000" textLength="45.89" lengthAdjust="spacingAndGlyphs" stroke="#000" stroke-width="0.22">4 Mar 2020</text>
<rect x="119" y="923" width="1" height="3" fill="#000"/>
<text x="118.1" y="935.2" font-size="10.3" fill="#000" textLength="50.94" lengthAdjust="spacingAndGlyphs" stroke="#000" stroke-width="0.22">16 Mar 2020</text>
<rect x="183" y="923" width="1" height="3" fill="#000"/>
<text x="182.1" y="935.2" font-size="10.3" fill="#000" textLength="50.94" lengthAdjust="spacingAndGlyphs" stroke="#000" stroke-width="0.22">26 Mar 2020</text>
<rect x="247" y="923" width="1" height="3" fill="#000"/>
<text x="246.1" y="935.2" font-size="10.3" fill="#000" textLength="45.14" lengthAdjust="spacingAndGlyphs" stroke="#000" stroke-width="0.22">7 Apr 2020</text>
<rect x="311" y="923" width="1" height="3" fill="#000"/>
<text x="310.1" y="935.2" font-size="10.3" fill="#000" textLength="50.33" lengthAdjust="spacingAndGlyphs" stroke="#000" stroke-width="0.22">21 Apr 2020</text>
<rect x="375" y="923" width="1" height="3" fill="#000"/>
<text x="374.1" y="935.2" font-size="10.3" fill="#000" textLength="48.76" lengthAdjust="spacingAndGlyphs" stroke="#000" stroke-width="0.22">5 May 2020</text>
<rect x="439" y="923" width="1" height="3" fill="#000"/>
<text x="438.1" y="935.2" font-size="10.3" fill="#000" textLength="53.95" lengthAdjust="spacingAndGlyphs" stroke="#000" stroke-width="0.22">15 May 2020</text>
<rect x="503" y="923" width="1" height="3" fill="#000"/>
<text x="502.1" y="935.2" font-size="10.3" fill="#000" textLength="53.95" lengthAdjust="spacingAndGlyphs" stroke="#000" stroke-width="0.22">27 May 2020</text>
<rect x="567" y="923" width="1" height="3" fill="#000"/>
<text x="566.1" y="935.2" font-size="10.3" fill="#000" textLength="46.18" lengthAdjust="spacingAndGlyphs" stroke="#000" stroke-width="0.22">8 Jun 2020</text>
<rect x="631" y="923" width="1" height="3" fill="#000"/>
<text x="630.1" y="935.2" font-size="10.3" fill="#000" textLength="51.37" lengthAdjust="spacingAndGlyphs" stroke="#000" stroke-width="0.22">18 Jun 2020</text>
<rect x="695" y="923" width="1" height="3" fill="#000"/>
<text x="694.1" y="935.2" font-size="10.3" fill="#000" textLength="43.06" lengthAdjust="spacingAndGlyphs" stroke="#000" stroke-width="0.22">2 Jul 2020</text>
<rect x="759" y="923" width="1" height="3" fill="#000"/>
<text x="758.1" y="935.2" font-size="10.3" fill="#000" textLength="48.25" lengthAdjust="spacingAndGlyphs" stroke="#000" stroke-width="0.22">14 Jul 2020</text>
<rect x="823" y="923" width="1" height="3" fill="#000"/>
<text x="822.1" y="935.2" font-size="10.3" fill="#000" textLength="48.25" lengthAdjust="spacingAndGlyphs" stroke="#000" stroke-width="0.22">24 Jul 2020</text>
<rect x="887" y="923" width="1" height="3" fill="#000"/>
<text x="886.1" y="935.2" font-size="10.3" fill="#000" textLength="47.22" lengthAdjust="spacingAndGlyphs" stroke="#000" stroke-width="0.22">5 Aug 2020</text>
<rect x="951" y="923" width="1" height="3" fill="#000"/>
<text x="950.1" y="935.2" font-size="10.3" fill="#000" textLength="52.41" lengthAdjust="spacingAndGlyphs" stroke="#000" stroke-width="0.22">17 Aug 2020</text>
<rect x="1015" y="923" width="1" height="3" fill="#000"/>
<text x="1014.1" y="935.2" font-size="10.3" fill="#000" textLength="52.41" lengthAdjust="spacingAndGlyphs" stroke="#000" stroke-width="0.22">27 Aug 2020</text>
<rect x="1079" y="923" width="1" height="3" fill="#000"/>
<text x="1078.1" y="935.2" font-size="10.3" fill="#000" textLength="47.74" lengthAdjust="spacingAndGlyphs" stroke="#000" stroke-width="0.22">8 Sep 2020</text>
<rect x="1143" y="923" width="1" height="3" fill="#000"/>
<text x="1142.1" y="935.2" font-size="10.3" fill="#000" textLength="52.93" lengthAdjust="spacingAndGlyphs" stroke="#000" stroke-width="0.22">18 Sep 2020</text>
<rect x="1207" y="923" width="1" height="3" fill="#000"/>
<text x="1206.1" y="935.2" font-size="10.3" fill="#000" textLength="52.93" lengthAdjust="spacingAndGlyphs" stroke="#000" stroke-width="0.22">30 Sep 2020</text>
<rect x="1271" y="923" width="1" height="3" fill="#000"/>
<text x="1270.1" y="935.2" font-size="10.3" fill="#000" textLength="50.84" lengthAdjust="spacingAndGlyphs" stroke="#000" stroke-width="0.22">14 Oct 2020</text>
<rect x="1335" y="923" width="1" height="3" fill="#000"/>
<text x="1334.1" y="935.2" font-size="10.3" fill="#000" textLength="50.84" lengthAdjust="spacingAndGlyphs" stroke="#000" stroke-width="0.22">27 Oct 2020</text>
<rect x="1399" y="923" width="1" height="3" fill="#000"/>
<text x="1398.1" y="935.2" font-size="10.3" fill="#000" textLength="47.73" lengthAdjust="spacingAndGlyphs" stroke="#000" stroke-width="0.22">6 Nov 2020</text>
<text x="6.3" y="32.7" font-size="10.6" fill="#000" textLength="50.2" lengthAdjust="spacingAndGlyphs" stroke="#000" stroke-width="0.22">HK50-,Daily</text>
<text x="63.2" y="32.7" font-size="10.6" fill="#000" textLength="140.4" lengthAdjust="spacingAndGlyphs" stroke="#000" stroke-width="0.22">26408.0 26460.0 26199.5 26368.0</text>
<rect x="0" y="31" width="1.2" height="1.3" fill="#222"/>
<rect x="0" y="40" width="215" height="67" fill="#fff"/>
<rect x="0" y="41" width="46" height="24" fill="url(#gTab)"/>
<rect x="161" y="41" width="52" height="24" fill="url(#gTab)"/>
<rect x="0" y="65" width="103" height="40" fill="url(#gPan)"/>
<rect x="105" y="65" width="108" height="40" fill="url(#gPan)"/>
<rect x="0" y="41" width="46" height="1" fill="#c00808"/><rect x="45" y="41" width="1" height="25" fill="#c00808"/><rect x="45" y="65" width="58" height="1" fill="#c00808"/><rect x="102" y="65" width="1" height="40" fill="#b40606"/>
<rect x="161" y="41" width="52" height="1" fill="#c00808"/><rect x="161" y="41" width="1" height="25" fill="#c00808"/><rect x="105" y="65" width="57" height="1" fill="#c00808"/><rect x="212" y="41" width="1" height="64" fill="#b40606"/><rect x="105" y="65" width="1" height="40" fill="#b40606"/>
<rect x="0" y="104" width="103" height="1" fill="#a80000"/><rect x="105" y="104" width="108" height="1" fill="#a80000"/>
<rect x="0" y="64" width="42" height="1" fill="#a30808"/><rect x="0" y="65" width="42" height="1" fill="#f58080"/>
<rect x="165" y="64" width="44" height="1" fill="#a30808"/><rect x="165" y="65" width="44" height="1" fill="#f58080"/>
<rect x="48.5" y="41.5" width="110" height="21" fill="#fff" stroke="#a9adb8" stroke-width="1"/>
<rect x="50" y="43" width="18" height="6" fill="#eeeeee"/><rect x="50" y="49" width="18" height="12" fill="#d7d7d7"/>
<rect x="139" y="43" width="18" height="6" fill="#eeeeee"/><rect x="139" y="49" width="18" height="12" fill="#d7d7d7"/>
<rect x="69" y="42" width="1" height="20" fill="#a9adb8"/>
<rect x="137" y="42" width="1" height="20" fill="#a9adb8"/>
<polygon points="56,50 61.2,50 58.6,53.4" fill="#4a5fc4"/>
<polygon points="145,53.4 150.2,53.4 147.6,50" fill="#4a5fc4"/>
<text x="133.5" y="56.3" font-size="13" fill="#111" text-anchor="end" textLength="23" lengthAdjust="spacingAndGlyphs">1.00</text>
<text x="6.2" y="57" font-size="12.3" fill="#fff" textLength="25.6" lengthAdjust="spacingAndGlyphs">SELL</text>
<text x="174.5" y="56.8" font-size="12.3" fill="#fff" textLength="23" lengthAdjust="spacingAndGlyphs">BUY</text>
<text x="10.2" y="95.8" font-size="12.6" font-weight="bold" fill="#fff" textLength="34.2" lengthAdjust="spacingAndGlyphs">26366</text>
<text x="120.2" y="95.8" font-size="12.6" font-weight="bold" fill="#fff" textLength="34.2" lengthAdjust="spacingAndGlyphs">26380</text>
<rect x="49" y="91.5" width="4.4" height="4.4" rx="1.2" fill="#fff"/>
<rect x="160" y="91.5" width="4.4" height="4.4" rx="1.2" fill="#fff"/>
<text x="56.2" y="96" font-size="34.8" fill="#fff" stroke="#c41414" stroke-width="0.25" textLength="15.9" lengthAdjust="spacingAndGlyphs">5</text>
<text x="167.6" y="96" font-size="34.8" fill="#fff" stroke="#c41414" stroke-width="0.25" textLength="15.9" lengthAdjust="spacingAndGlyphs">5</text>
<rect x="0" y="0" width="1728" height="17" fill="#f0f0f0"/>
<rect x="0" y="17" width="1728" height="1" fill="#bdbdbd"/>
<rect x="0" y="18" width="1728" height="1" fill="#6e6e6e"/>
<g clip-path="url(#cTool)">
<rect x="-3" y="-3" width="7.5" height="14" fill="#fff" stroke="#3b74d6" stroke-width="1"/><path d="M0 2h3M0 4.5h3M0 7h3" stroke="#7aa7ea" stroke-width="1"/>
<rect x="17.5" y="-3" width="10" height="13" fill="#fafafa" stroke="#9a9a9a" stroke-width="1"/>
<path d="M29.5 9.5l4.2 4.2" stroke="#c9a227" stroke-width="2.6" stroke-linecap="round"/>
<circle cx="25.5" cy="5.2" r="5" fill="#cfe2f6" stroke="#7aa4e0" stroke-width="1.2"/><rect x="24" y="2" width="3" height="5" fill="#a9b4c2"/>
<rect x="42" y="0" width="1" height="14.5" fill="#9a9a9a"/>
<rect x="52.5" y="-3" width="11" height="13" fill="#fdfdfd" stroke="#8c8c8c" stroke-width="1"/><path d="M55 1.5h6M55 4h6" stroke="#9a9a9a" stroke-width="1"/>
<path d="M60 3.5h4v3.5h3.5v4h-3.5v3.5h-4v-3.5h-3.5v-4h3.5z" fill="#22c322" stroke="#0b8a0b" stroke-width="0.9"/>
<text x="70.6" y="8" font-size="12.6" fill="#000" font-family="'Liberation Sans','Noto Sans CJK SC',sans-serif" textLength="36.6" lengthAdjust="spacing">新订单</text>
<polygon points="119.5,6.5 127.5,-2 135,4.5 127,12.8" fill="#e2b124" stroke="#a97c12" stroke-width="1"/><polygon points="121.5,6.5 127.3,0.5 132.5,5 127,10.5" fill="#f3cf55"/>
<rect x="150.5" y="-3" width="9.5" height="9" fill="#2b8be8"/><rect x="154" y="1" width="4.5" height="1" fill="#fff"/>
<path d="M149.5 12.3c-3 0-3.4-4.2-0.3-4.6c0.3-2.6 3.8-3.4 5.2-1.3c2-1.6 4.8-0.3 4.6 2c3.3 0.2 3.1 3.9 0 3.9z" fill="#eef3fa" stroke="#7d93b5" stroke-width="1"/>
<path d="M183 5a0 0 0 0 0 0 0" />
<circle cx="183" cy="4.5" r="7.3" fill="none" stroke="#9fb6e6" stroke-width="1"/><circle cx="183" cy="4.5" r="4.8" fill="none" stroke="#6f93dc" stroke-width="1.2"/>
<path d="M183 4.5V12.5A8 8 0 0 0 190.5 2.5z" fill="#8fd08f" fill-opacity="0.85"/><path d="M183.5 5V12.8" stroke="#22a022" stroke-width="1.6"/><circle cx="183" cy="4.3" r="1.8" fill="#2d5fd2"/>
<ellipse cx="210" cy="0.5" rx="8" ry="3.4" fill="#4da3e6" stroke="#2a78c0" stroke-width="0.8"/><polygon points="202.5,3.5 217.5,3.5 211,12.5 208.5,12.5" fill="#f2d33a" stroke="#c79f16" stroke-width="0.8"/>
<circle cx="214.5" cy="8.6" r="4.1" fill="#e02a1c"/><rect x="212.9" y="7" width="3.2" height="3.2" fill="#fff"/>
<text x="222.6" y="8" font-size="12.6" fill="#000" font-family="'Liberation Sans','Noto Sans CJK SC',sans-serif" textLength="48.6" lengthAdjust="spacing">自动交易</text>
<rect x="278" y="0" width="1" height="17" fill="#b0b0b0"/>
<rect x="281.5" y="1" width="3.5" height="1" fill="#a6a6a6"/>
<rect x="281.5" y="3" width="3.5" height="1" fill="#a6a6a6"/>
<rect x="281.5" y="5" width="3.5" height="1" fill="#a6a6a6"/>
<rect x="281.5" y="7" width="3.5" height="1" fill="#a6a6a6"/>
<rect x="281.5" y="9" width="3.5" height="1" fill="#a6a6a6"/>
<rect x="281.5" y="11" width="3.5" height="1" fill="#a6a6a6"/>
<rect x="281.5" y="13" width="3.5" height="1" fill="#a6a6a6"/>
<path d="M296.5 0V13M294 10.5H307M305 8.5l2.5 2-2.5 2M294.7 2.2l1.8-2.2 1.8 2.2" fill="none" stroke="#606060" stroke-width="1.05"/>
<path d="M302.5 0.5V8M302.5 1.5h2.5M300 7.5h2.5" stroke="#1fa01f" stroke-width="1.3" fill="none"/>
<rect x="316" y="0" width="1" height="14.5" fill="#9a9a9a"/>
<rect x="317.5" y="0" width="24.0" height="15" fill="#f9f9f9"/>
<path d="M324.5 0V13M322 10.5H335M333 8.5l2.5 2-2.5 2M322.7 2.2l1.8-2.2 1.8 2.2" fill="none" stroke="#606060" stroke-width="1.05"/>
<rect x="328.5" y="-2" width="4.5" height="8.5" fill="#2fd02f" stroke="#138a13" stroke-width="0.9"/><path d="M330.7 6.5V8.8" stroke="#138a13" stroke-width="1.2"/>
<path d="M352.5 0V13M350 10.5H363M361 8.5l2.5 2-2.5 2M350.7 2.2l1.8-2.2 1.8 2.2" fill="none" stroke="#606060" stroke-width="1.05"/>
<path d="M351.2 8c2.5-1 4-6 6-6s3.2 3 5.8 4" fill="none" stroke="#2aa02a" stroke-width="1.3"/>
<rect x="373" y="0" width="1" height="14.5" fill="#9a9a9a"/>
<path d="M392 7.2l5.3 5.3" stroke="#cfa820" stroke-width="2.8" stroke-linecap="round"/>
<circle cx="388" cy="3" r="5.3" fill="#d4e9fb" stroke="#3e82d4" stroke-width="1.3"/>
<path d="M385 3h6M388 0v6" stroke="#3b7fc8" stroke-width="1.6"/>
<path d="M420 7.2l5.3 5.3" stroke="#cfa820" stroke-width="2.8" stroke-linecap="round"/>
<circle cx="416" cy="3" r="5.3" fill="#d4e9fb" stroke="#3e82d4" stroke-width="1.3"/>
<path d="M413 3h6" stroke="#3b7fc8" stroke-width="1.6"/>
<rect x="438" y="-3" width="7.6" height="7.6" fill="#5ab02e"/><rect x="446.4" y="-3" width="7.6" height="7.6" fill="#2f66d8"/><rect x="438" y="5.4" width="7.6" height="7.3" fill="#2f66d8"/><rect x="446.4" y="5.4" width="7.6" height="7.3" fill="#5ab02e"/>
<path d="M439.5 1.5h4.6M447.9 1.5h4.6M439.5 9.5h4.6M447.9 9.5h4.6" stroke="#fff" stroke-width="1.6"/>
<rect x="463" y="0" width="1" height="14.5" fill="#9a9a9a"/>
<rect x="468.5" y="0" width="24.5" height="15" fill="#f9f9f9"/>
<path d="M476.5 0V13M474 10.5H487M485 8.5l2.5 2-2.5 2M474.7 2.2l1.8-2.2 1.8 2.2" fill="none" stroke="#606060" stroke-width="1.05"/>
<polygon points="481,1.3 485.3,4.4 481,7.6" fill="none" stroke="#22a022" stroke-width="1.2"/>
<rect x="495.8" y="0" width="1" height="14.5" fill="#9a9a9a"/>
<rect x="497" y="0" width="24" height="15" fill="#f9f9f9"/>
<path d="M504.5 0V13M502 10.5H515M513 8.5l2.5 2-2.5 2M502.7 2.2l1.8-2.2 1.8 2.2" fill="none" stroke="#606060" stroke-width="1.05"/>
<path d="M510.5 0V8.7" stroke="#1f6fb5" stroke-width="1.3"/><path d="M516 4.5h-4M513.6 2.3l-2.2 2.2 2.2 2.2" stroke="#e0561c" stroke-width="1.3" fill="none"/>
<rect x="524.9" y="0" width="1" height="14.5" fill="#9a9a9a"/>
<rect x="535.5" y="-3" width="11" height="13" fill="#fdfdfd" stroke="#8c8c8c" stroke-width="1"/>
<path d="M543 4.0h4v3.5h3.5v4h-3.5v3.5h-4v-3.5h-3.5v-4h3.5z" fill="#22c322" stroke="#0b8a0b" stroke-width="0.9"/>
<polygon points="556.8,3.8 562.1999999999999,3.8 559.5,7" fill="#111"/>
<circle cx="581" cy="4.7" r="7" fill="#fff" stroke="#1f72d4" stroke-width="2"/><path d="M581 0.5V5.2l2.6 0.9" stroke="#333" stroke-width="1.1" fill="none"/>
<polygon points="595.8,3.8 601.1999999999999,3.8 598.5,7" fill="#111"/>
<rect x="612.5" y="-3" width="15" height="14.5" fill="#fff" stroke="#3f7bcb" stroke-width="1.2"/><path d="M612.5 6H627.5" stroke="#3f7bcb" stroke-width="1"/>
<path d="M614.5 4.2l2.5-1 2 -1 2.5 1 3.5-1" stroke="#b02318" stroke-width="1.2" fill="none"/><path d="M615 9.2l2.5-0.8 2 0.6 3-2 2.5 1.8" stroke="#1f9a1f" stroke-width="1.2" fill="none"/>
<polygon points="634.8,3.8 640.1999999999999,3.8 637.5,7" fill="#111"/>
<rect x="646.2" y="0" width="1" height="17" fill="#a0a0a0"/>
<rect x="650" y="1" width="3.5" height="1" fill="#a6a6a6"/>
<rect x="650" y="3" width="3.5" height="1" fill="#a6a6a6"/>
<rect x="650" y="5" width="3.5" height="1" fill="#a6a6a6"/>
<rect x="650" y="7" width="3.5" height="1" fill="#a6a6a6"/>
<rect x="650" y="9" width="3.5" height="1" fill="#a6a6a6"/>
<rect x="650" y="11" width="3.5" height="1" fill="#a6a6a6"/>
<rect x="650" y="13" width="3.5" height="1" fill="#a6a6a6"/>
<rect x="656.1" y="0" width="1" height="14.5" fill="#9a9a9a"/>
<rect x="657" y="0" width="24" height="15" fill="#f9f9f9"/>
<path d="M664.3 -3V7.6l2.3-2 2.5 6 1.9-0.9-2.5-5.7h3.2z" fill="#4a4a4a"/>
<path d="M689 5.5h15M696.5 0V12.7" stroke="#666" stroke-width="1"/>
<rect x="713" y="0" width="1" height="14.5" fill="#9a9a9a"/>
<path d="M730.5 0V11.7M753 5.5h12M781 12L793.3-0.3" stroke="#606060" stroke-width="1.05" fill="none"/>
<path d="M807 8.2L818 0M810 11.2L821 3M809 6.6l2.6 3.4M811.6 4.6l2.6 3.4M814.2 2.7l2.6 3.4M816.8 0.8l2.6 3.4" stroke="#555" stroke-width="1.1" fill="none"/>
<text x="817.6" y="13.6" font-size="6.5" font-weight="bold" fill="#333">E</text>
<path d="M836 1.5h13.5M836 5.5h13.5M836 9.5h9" stroke="#555" stroke-width="1" stroke-dasharray="1,1" fill="none"/>
<text x="845.6" y="13.6" font-size="6.5" font-weight="bold" fill="#333">F</text>
<text x="866.6" y="9.6" font-size="12.2" fill="#555" stroke="#555" stroke-width="0.3">A</text>
<rect x="893.5" y="1.5" width="11" height="10" fill="none" stroke="#555" stroke-width="1" stroke-dasharray="1,1"/><text x="895.3" y="9.7" font-size="10.5" fill="#555" stroke="#555" stroke-width="0.3">T</text>
<polygon points="920,1.8 923.2,-1.5 926.4,1.8 923.2,3.6" fill="#444"/><polygon points="927.2,8.8 930.6,6.8 934,8.8 930.6,11.8" fill="#444"/><path d="M922.5 6.5l2 1.6 4.3-4.8" stroke="#444" stroke-width="1.2" fill="none"/>
<polygon points="940.8,3.8 946.1999999999999,3.8 943.5,7" fill="#111"/>
<rect x="952.2" y="0" width="1" height="17" fill="#a0a0a0"/>
<rect x="956" y="1" width="3.5" height="1" fill="#a6a6a6"/>
<rect x="956" y="3" width="3.5" height="1" fill="#a6a6a6"/>
<rect x="956" y="5" width="3.5" height="1" fill="#a6a6a6"/>
<rect x="956" y="7" width="3.5" height="1" fill="#a6a6a6"/>
<rect x="956" y="9" width="3.5" height="1" fill="#a6a6a6"/>
<rect x="956" y="11" width="3.5" height="1" fill="#a6a6a6"/>
<rect x="956" y="13" width="3.5" height="1" fill="#a6a6a6"/>
<rect x="1130" y="0" width="1" height="14.5" fill="#9a9a9a"/>
<rect x="1131" y="0" width="24" height="15" fill="#f9f9f9"/>
<text x="967.5" y="8.8" font-size="9.2" fill="#444" textLength="12.7" lengthAdjust="spacingAndGlyphs">M1</text>
<text x="995.5" y="8.8" font-size="9.2" fill="#444" textLength="13" lengthAdjust="spacingAndGlyphs">M5</text>
<text x="1021.5" y="8.8" font-size="9.2" fill="#444" textLength="18" lengthAdjust="spacingAndGlyphs">M15</text>
<text x="1049.6" y="8.8" font-size="9.2" fill="#444" textLength="18" lengthAdjust="spacingAndGlyphs">M30</text>
<text x="1080.6" y="8.8" font-size="9.2" fill="#444" textLength="11.6" lengthAdjust="spacingAndGlyphs">H1</text>
<text x="1107.6" y="8.8" font-size="9.2" fill="#444" textLength="12.4" lengthAdjust="spacingAndGlyphs">H4</text>
<text x="1136.4" y="8.8" font-size="9.2" fill="#444" textLength="11.8" lengthAdjust="spacingAndGlyphs">D1</text>
<text x="1164.2" y="8.8" font-size="9.2" fill="#444" textLength="14" lengthAdjust="spacingAndGlyphs">W1</text>
<text x="1190.6" y="8.8" font-size="9.2" fill="#444" textLength="14.6" lengthAdjust="spacingAndGlyphs">MN</text>
<rect x="1213.1" y="0" width="1" height="17" fill="#a0a0a0"/>
<path d="M1681 5.8L1675.8 10.3" stroke="#1d55d8" stroke-width="2.6"/><circle cx="1683.6" cy="2" r="4.2" fill="#fff" stroke="#1d55d8" stroke-width="1.3"/>
<path d="M1717 6.5l2.2 2.3 0-2.5" fill="#777"/><ellipse cx="1716" cy="1.8" rx="6.4" ry="4.9" fill="#f1f1f6" stroke="#8a8a8a" stroke-width="0.9"/>
<path d="M1704 9.5l0.6 2.6 2.4-2.2" fill="#777"/><ellipse cx="1707" cy="6" rx="5" ry="3.9" fill="#fafafa" stroke="#808080" stroke-width="0.9"/>
</g>
</svg>
</body></html>
